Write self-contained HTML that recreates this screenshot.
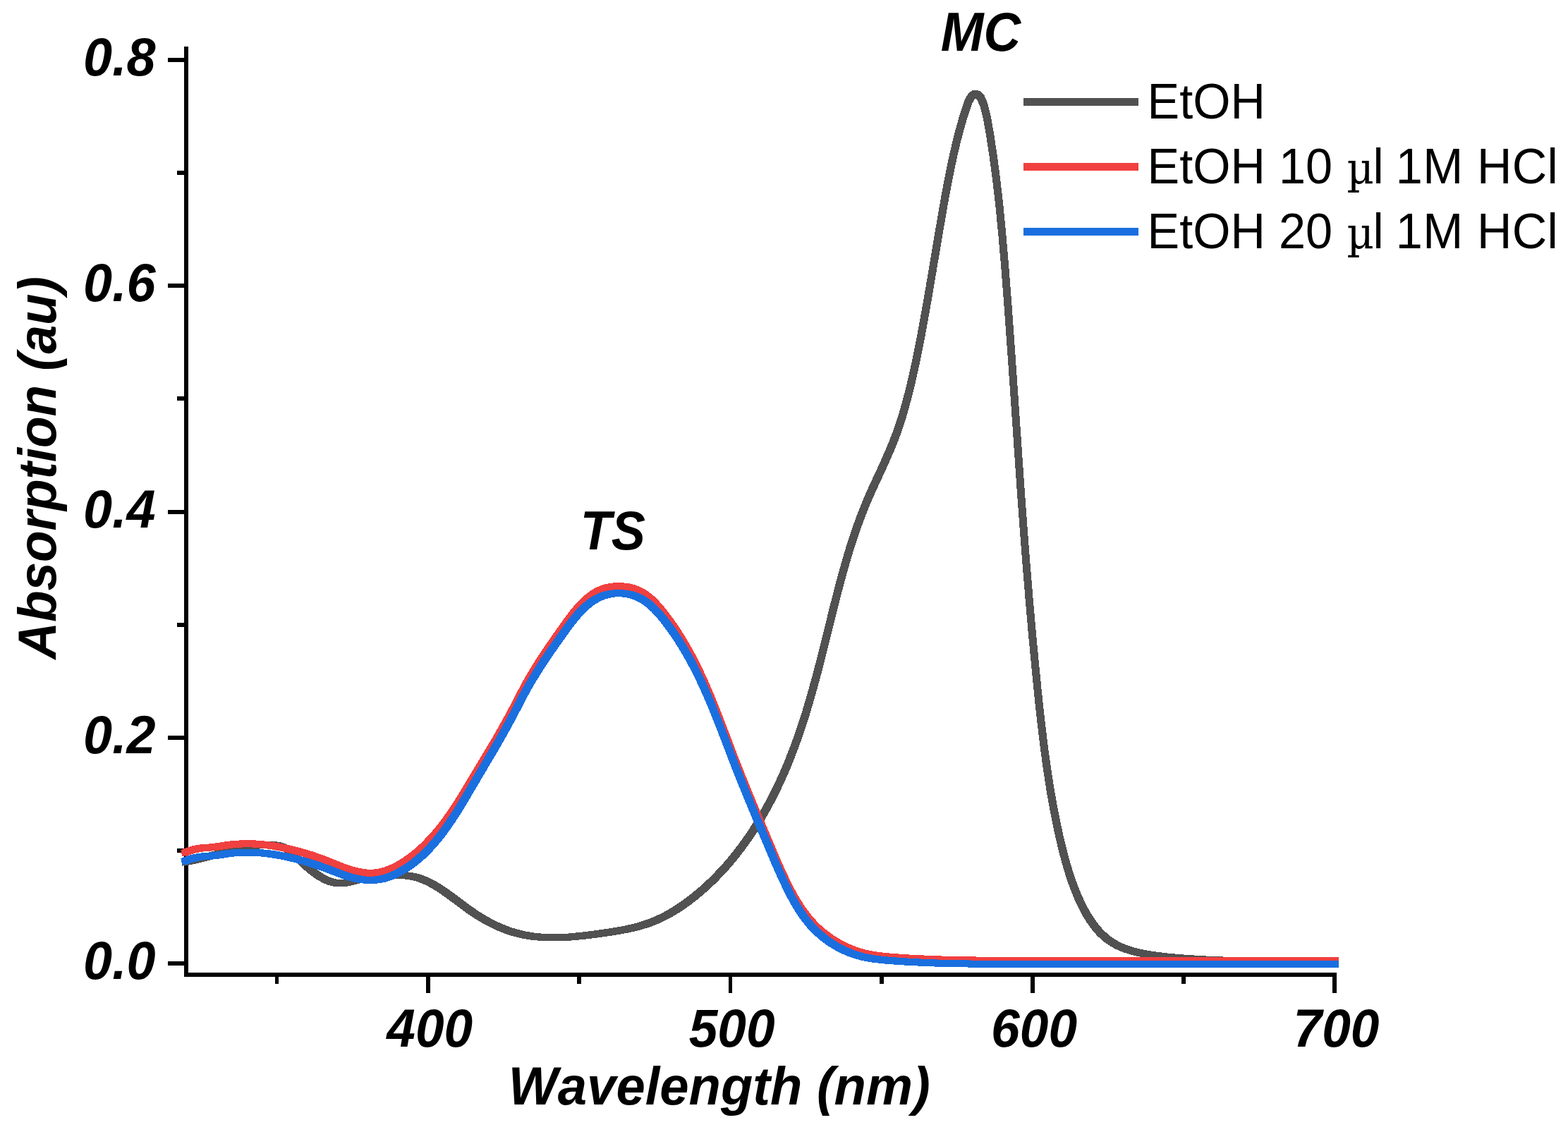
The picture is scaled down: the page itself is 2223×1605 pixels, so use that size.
<!DOCTYPE html>
<html lang="en"><head><meta charset="utf-8"><title>Absorption spectra</title>
<style>html,body{margin:0;padding:0;background:#fff}body{width:2223px;height:1605px;overflow:hidden}svg{display:block}</style>
</head><body>
<svg width="2223" height="1605" viewBox="0 0 2223 1605" role="img" aria-label="UV-Vis absorption spectra">
<rect width="2223" height="1605" fill="#fff"/>
<g fill="#000" shape-rendering="crispEdges">
<rect x="261" y="66" width="6" height="1319"/>
<rect x="261" y="1379" width="1634" height="6"/>
<rect x="238" y="1363" width="23" height="6"/>
<rect x="238" y="1043" width="23" height="6"/>
<rect x="238" y="723" width="23" height="6"/>
<rect x="238" y="402" width="23" height="6"/>
<rect x="238" y="82" width="23" height="6"/>
<rect x="251" y="1203" width="10" height="6"/>
<rect x="251" y="883" width="10" height="6"/>
<rect x="251" y="562" width="10" height="6"/>
<rect x="251" y="242" width="10" height="6"/>
<rect x="604" y="1385" width="6" height="23"/>
<rect x="1033" y="1385" width="5" height="23"/>
<rect x="1461" y="1385" width="6" height="23"/>
<rect x="1889" y="1385" width="6" height="23"/>
<rect x="390" y="1385" width="5" height="10"/>
<rect x="818" y="1385" width="6" height="10"/>
<rect x="1247" y="1385" width="6" height="10"/>
<rect x="1675" y="1385" width="6" height="10"/>
</g>
<g fill="none" stroke-width="6.6" stroke-linejoin="round" stroke-linecap="butt" shape-rendering="crispEdges">
<g stroke="#515151">
<path d="M257.7,1221.0 L261.9,1220.2 L266.2,1219.4 L270.5,1218.4 L274.8,1217.5 L279.0,1216.4 L283.3,1215.4 L287.6,1214.3 L291.9,1213.1 L296.2,1212.0 L300.5,1210.8 L304.7,1209.6 L309.0,1208.4 L313.3,1207.3 L317.6,1206.1 L321.9,1205.0 L326.2,1203.9 L330.4,1202.8 L334.7,1201.8 L339.0,1200.9 L343.3,1200.0 L347.6,1199.1 L351.9,1198.4 L356.2,1197.7 L360.4,1197.1 L364.7,1196.7 L369.0,1196.3 L373.3,1196.1 L377.6,1196.0 L381.9,1196.1 L386.1,1196.4 L390.4,1197.0 L394.7,1197.9 L399.0,1199.3 L403.3,1201.3 L407.6,1204.0 L411.8,1207.4 L416.1,1211.2 L420.4,1215.4 L424.7,1219.5 L429.0,1223.6 L433.3,1227.4 L437.6,1231.1 L441.8,1234.5 L446.1,1237.6 L450.4,1240.5 L454.7,1243.0 L459.0,1245.3 L463.3,1247.2 L467.5,1248.7 L471.8,1249.7 L476.1,1250.4 L480.4,1250.5 L484.7,1250.3 L489.0,1249.7 L493.2,1248.8 L497.5,1247.8 L501.8,1246.7 L506.1,1245.7 L510.4,1244.7 L514.7,1243.7 L519.0,1242.9 L523.2,1242.1 L527.5,1241.4 L531.8,1240.7 L536.1,1240.2 L540.4,1239.7 L544.7,1239.4 L548.9,1239.1 L553.2,1239.0 L557.5,1238.9 L561.8,1239.0 L566.1,1239.1 L570.4,1239.4 L574.6,1239.8 L578.9,1240.4 L583.2,1241.2 L587.5,1242.1 L591.8,1243.3 L596.1,1244.8 L600.4,1246.5 L604.6,1248.4 L608.9,1250.6 L613.2,1252.9 L617.5,1255.5 L621.8,1258.2 L626.1,1261.1 L630.3,1264.1 L634.6,1267.1 L638.9,1270.3 L643.2,1273.5 L647.5,1276.7 L651.8,1279.9 L656.0,1283.1 L660.3,1286.2 L664.6,1289.3 L668.9,1292.2 L673.2,1295.1 L677.5,1297.8 L681.8,1300.4 L686.0,1302.8 L690.3,1305.2 L694.6,1307.4 L698.9,1309.6 L703.2,1311.6 L707.5,1313.5 L711.7,1315.2 L716.0,1316.9 L720.3,1318.4 L724.6,1319.7 L728.9,1321.0 L733.2,1322.1 L737.4,1323.1 L741.7,1324.0 L746.0,1324.8 L750.3,1325.5 L754.6,1326.1 L758.9,1326.5 L763.2,1326.9 L767.4,1327.2 L771.7,1327.4 L776.0,1327.6 L780.3,1327.7 L784.6,1327.7 L788.9,1327.6 L793.1,1327.5 L797.4,1327.3 L801.7,1327.0 L806.0,1326.8 L810.3,1326.4 L814.6,1326.0 L818.8,1325.6 L823.1,1325.2 L827.4,1324.7 L831.7,1324.2 L836.0,1323.6 L840.3,1323.1 L844.6,1322.5 L848.8,1321.9 L853.1,1321.3 L857.4,1320.7 L861.7,1320.1 L866.0,1319.4 L870.3,1318.7 L874.5,1318.0 L878.8,1317.2 L883.1,1316.4 L887.4,1315.6 L891.7,1314.6 L896.0,1313.6 L900.2,1312.6 L904.5,1311.4 L908.8,1310.1 L913.1,1308.8 L917.4,1307.3 L921.7,1305.8 L926.0,1304.0 L930.2,1302.2 L934.5,1300.2 L938.8,1298.1 L943.1,1295.9 L947.4,1293.5 L951.7,1291.0 L955.9,1288.4 L960.2,1285.7 L964.5,1282.8 L968.8,1279.8 L973.1,1276.7 L977.4,1273.4 L981.6,1270.1 L985.9,1266.6 L990.2,1263.0 L994.5,1259.3 L998.8,1255.5 L1003.1,1251.5 L1007.4,1247.4 L1011.6,1243.2 L1015.9,1238.8 L1020.2,1234.3 L1024.5,1229.6 L1028.8,1224.8 L1033.1,1219.8 L1037.3,1214.7 L1041.6,1209.3 L1045.9,1203.8 L1050.2,1198.1 L1054.5,1192.2 L1058.8,1186.1 L1063.0,1179.8 L1067.3,1173.2 L1071.6,1166.5 L1075.9,1159.4 L1080.2,1152.1 L1084.5,1144.5 L1088.8,1136.7 L1093.0,1128.5 L1097.3,1120.0 L1101.6,1111.1 L1105.9,1101.8 L1110.2,1092.2 L1114.5,1082.0 L1118.7,1071.4 L1123.0,1060.3 L1127.3,1048.7 L1131.6,1036.4 L1135.9,1023.6 L1140.2,1010.1 L1144.4,995.9 L1148.7,981.1 L1153.0,965.7 L1157.3,949.7 L1161.6,933.1 L1165.9,916.1 L1170.2,898.9 L1174.4,881.6 L1178.7,864.3 L1183.0,847.2 L1187.3,830.6 L1191.6,814.6 L1195.9,799.2 L1200.1,784.6 L1204.4,770.7 L1208.7,757.5 L1213.0,745.1 L1217.3,733.4 L1221.6,722.2 L1225.8,711.7 L1230.1,701.8 L1234.4,692.1 L1238.7,682.7 L1243.0,673.5 L1247.3,664.2 L1251.6,654.8 L1255.8,645.2 L1260.1,635.3 L1264.4,624.8 L1268.7,613.5 L1273.0,601.3 L1277.3,587.9 L1281.5,573.3 L1285.8,557.2 L1290.1,539.7 L1294.4,520.6 L1298.7,500.1 L1303.0,478.4 L1307.2,455.6 L1311.5,431.6 L1315.8,406.8 L1320.1,381.3 L1324.4,355.6 L1328.7,330.1 L1333.0,305.1 L1337.2,281.0 L1341.5,258.0 L1345.8,236.2 L1350.1,216.2 L1354.4,198.0 L1358.7,181.5 L1362.9,166.6 L1367.2,153.1 L1371.5,141.1 L1375.8,134.2 L1380.1,131.2 L1384.4,132.3 L1388.6,137.3 L1392.9,147.5 L1397.2,164.7 L1401.5,189.3 L1405.8,217.6 L1410.1,249.6 L1414.4,286.4 L1418.6,329.3 L1422.9,379.4 L1427.2,435.9 L1431.5,496.0 L1435.8,558.1 L1440.1,620.6 L1444.3,682.1 L1448.6,741.4 L1452.9,797.4 L1457.2,849.9 L1461.5,898.8 L1465.8,944.2 L1470.0,986.5 L1474.3,1025.6 L1478.6,1060.9 L1482.9,1092.0 L1487.2,1119.4 L1491.5,1143.7 L1495.8,1165.5 L1500.0,1185.1 L1504.3,1203.0 L1508.6,1219.3 L1512.9,1233.9 L1517.2,1247.0 L1521.5,1258.6 L1525.7,1269.1 L1530.0,1278.6 L1534.3,1287.2 L1538.6,1294.9 L1542.9,1301.8 L1547.2,1308.0 L1551.4,1313.6 L1555.7,1318.6 L1560.0,1323.0 L1564.3,1326.9 L1568.6,1330.4 L1572.9,1333.4 L1577.2,1336.1 L1581.4,1338.4 L1585.7,1340.5 L1590.0,1342.3 L1594.3,1343.9 L1598.6,1345.3 L1602.9,1346.6 L1607.1,1347.8 L1611.4,1348.8 L1615.7,1349.7 L1620.0,1350.6 L1624.3,1351.3 L1628.6,1352.0 L1632.8,1352.6 L1637.1,1353.2 L1641.4,1353.7 L1645.7,1354.2 L1650.0,1354.7 L1654.3,1355.1 L1658.6,1355.5 L1662.8,1355.9 L1667.1,1356.3 L1671.4,1356.6 L1675.7,1357.0 L1680.0,1357.3 L1684.3,1357.6 L1688.5,1357.8 L1692.8,1358.1 L1697.1,1358.3 L1701.4,1358.6 L1705.7,1358.8 L1710.0,1359.0 L1714.2,1359.2 L1718.5,1359.4 L1722.8,1359.6 L1727.1,1359.7 L1731.4,1359.9 L1735.7,1360.1 L1740.0,1360.2 L1744.2,1360.4 L1748.5,1360.5 L1752.8,1360.6 L1757.1,1360.8 L1761.4,1360.9 L1765.7,1361.0 L1769.9,1361.1 L1774.2,1361.2 L1778.5,1361.3 L1782.8,1361.4 L1787.1,1361.5 L1791.4,1361.6 L1795.6,1361.7 L1799.9,1361.8 L1804.2,1361.8 L1808.5,1361.9 L1812.8,1362.0 L1817.1,1362.0 L1821.4,1362.1 L1825.6,1362.2 L1829.9,1362.2 L1834.2,1362.3 L1838.5,1362.3 L1842.8,1362.4 L1847.1,1362.4 L1851.3,1362.5 L1855.6,1362.5 L1859.9,1362.5 L1864.2,1362.6 L1868.5,1362.6 L1872.8,1362.6 L1877.0,1362.7 L1881.3,1362.7 L1885.6,1362.7 L1889.9,1362.8 L1893.9,1362.8"/>
<path d="M261.9,1221.0 L266.1,1220.2 L270.4,1219.4 L274.7,1218.4 L279.0,1217.5 L283.2,1216.4 L287.5,1215.4 L291.8,1214.3 L296.1,1213.1 L300.4,1212.0 L304.7,1210.8 L308.9,1209.6 L313.2,1208.4 L317.5,1207.3 L321.8,1206.1 L326.1,1205.0 L330.4,1203.9 L334.6,1202.8 L338.9,1201.8 L343.2,1200.9 L347.5,1200.0 L351.8,1199.1 L356.1,1198.4 L360.4,1197.7 L364.6,1197.1 L368.9,1196.7 L373.2,1196.3 L377.5,1196.1 L381.8,1196.0 L386.1,1196.1 L390.3,1196.4 L394.6,1197.0 L398.9,1197.9 L403.2,1199.3 L407.5,1201.3 L411.8,1204.0 L416.0,1207.4 L420.3,1211.2 L424.6,1215.4 L428.9,1219.5 L433.2,1223.6 L437.5,1227.4 L441.8,1231.1 L446.0,1234.5 L450.3,1237.6 L454.6,1240.5 L458.9,1243.0 L463.2,1245.3 L467.5,1247.2 L471.7,1248.7 L476.0,1249.7 L480.3,1250.4 L484.6,1250.5 L488.9,1250.3 L493.2,1249.7 L497.4,1248.8 L501.7,1247.8 L506.0,1246.7 L510.3,1245.7 L514.6,1244.7 L518.9,1243.7 L523.2,1242.9 L527.4,1242.1 L531.7,1241.4 L536.0,1240.7 L540.3,1240.2 L544.6,1239.7 L548.9,1239.4 L553.1,1239.1 L557.4,1239.0 L561.7,1238.9 L566.0,1239.0 L570.3,1239.1 L574.6,1239.4 L578.8,1239.8 L583.1,1240.4 L587.4,1241.2 L591.7,1242.1 L596.0,1243.3 L600.3,1244.8 L604.6,1246.5 L608.8,1248.4 L613.1,1250.6 L617.4,1252.9 L621.7,1255.5 L626.0,1258.2 L630.3,1261.1 L634.5,1264.1 L638.8,1267.1 L643.1,1270.3 L647.4,1273.5 L651.7,1276.7 L656.0,1279.9 L660.2,1283.1 L664.5,1286.2 L668.8,1289.3 L673.1,1292.2 L677.4,1295.1 L681.7,1297.8 L686.0,1300.4 L690.2,1302.8 L694.5,1305.2 L698.8,1307.4 L703.1,1309.6 L707.4,1311.6 L711.7,1313.5 L715.9,1315.2 L720.2,1316.9 L724.5,1318.4 L728.8,1319.7 L733.1,1321.0 L737.4,1322.1 L741.6,1323.1 L745.9,1324.0 L750.2,1324.8 L754.5,1325.5 L758.8,1326.1 L763.1,1326.5 L767.4,1326.9 L771.6,1327.2 L775.9,1327.4 L780.2,1327.6 L784.5,1327.7 L788.8,1327.7 L793.1,1327.6 L797.3,1327.5 L801.6,1327.3 L805.9,1327.0 L810.2,1326.8 L814.5,1326.4 L818.8,1326.0 L823.0,1325.6 L827.3,1325.2 L831.6,1324.7 L835.9,1324.2 L840.2,1323.6 L844.5,1323.1 L848.8,1322.5 L853.0,1321.9 L857.3,1321.3 L861.6,1320.7 L865.9,1320.1 L870.2,1319.4 L874.5,1318.7 L878.7,1318.0 L883.0,1317.2 L887.3,1316.4 L891.6,1315.6 L895.9,1314.6 L900.2,1313.6 L904.4,1312.6 L908.7,1311.4 L913.0,1310.1 L917.3,1308.8 L921.6,1307.3 L925.9,1305.8 L930.2,1304.0 L934.4,1302.2 L938.7,1300.2 L943.0,1298.1 L947.3,1295.9 L951.6,1293.5 L955.9,1291.0 L960.1,1288.4 L964.4,1285.7 L968.7,1282.8 L973.0,1279.8 L977.3,1276.7 L981.6,1273.4 L985.8,1270.1 L990.1,1266.6 L994.4,1263.0 L998.7,1259.3 L1003.0,1255.5 L1007.3,1251.5 L1011.6,1247.4 L1015.8,1243.2 L1020.1,1238.8 L1024.4,1234.3 L1028.7,1229.6 L1033.0,1224.8 L1037.3,1219.8 L1041.5,1214.7 L1045.8,1209.3 L1050.1,1203.8 L1054.4,1198.1 L1058.7,1192.2 L1063.0,1186.1 L1067.2,1179.8 L1071.5,1173.2 L1075.8,1166.5 L1080.1,1159.4 L1084.4,1152.1 L1088.7,1144.5 L1093.0,1136.7 L1097.2,1128.5 L1101.5,1120.0 L1105.8,1111.1 L1110.1,1101.8 L1114.4,1092.2 L1118.7,1082.0 L1122.9,1071.4 L1127.2,1060.3 L1131.5,1048.7 L1135.8,1036.4 L1140.1,1023.6 L1144.4,1010.1 L1148.6,995.9 L1152.9,981.1 L1157.2,965.7 L1161.5,949.7 L1165.8,933.1 L1170.1,916.1 L1174.4,898.9 L1178.6,881.6 L1182.9,864.3 L1187.2,847.2 L1191.5,830.6 L1195.8,814.6 L1200.1,799.2 L1204.3,784.6 L1208.6,770.7 L1212.9,757.5 L1217.2,745.1 L1221.5,733.4 L1225.8,722.2 L1230.0,711.7 L1234.3,701.8 L1238.6,692.1 L1242.9,682.7 L1247.2,673.5 L1251.5,664.2 L1255.8,654.8 L1260.0,645.2 L1264.3,635.3 L1268.6,624.8 L1272.9,613.5 L1277.2,601.3 L1281.5,587.9 L1285.7,573.3 L1290.0,557.2 L1294.3,539.7 L1298.6,520.6 L1302.9,500.1 L1307.2,478.4 L1311.4,455.6 L1315.7,431.6 L1320.0,406.8 L1324.3,381.3 L1328.6,355.6 L1332.9,330.1 L1337.2,305.1 L1341.4,281.0 L1345.7,258.0 L1350.0,236.2 L1354.3,216.2 L1358.6,198.0 L1362.9,181.5 L1367.1,166.6 L1371.4,153.1 L1375.7,141.1 L1380.0,134.2 L1384.3,131.2 L1388.6,132.3 L1392.8,137.3 L1397.1,147.5 L1401.4,164.7 L1405.7,189.3 L1410.0,217.6 L1414.3,249.6 L1418.6,286.4 L1422.8,329.3 L1427.1,379.4 L1431.4,435.9 L1435.7,496.0 L1440.0,558.1 L1444.3,620.6 L1448.5,682.1 L1452.8,741.4 L1457.1,797.4 L1461.4,849.9 L1465.7,898.8 L1470.0,944.2 L1474.2,986.5 L1478.5,1025.6 L1482.8,1060.9 L1487.1,1092.0 L1491.4,1119.4 L1495.7,1143.7 L1500.0,1165.5 L1504.2,1185.1 L1508.5,1203.0 L1512.8,1219.3 L1517.1,1233.9 L1521.4,1247.0 L1525.7,1258.6 L1529.9,1269.1 L1534.2,1278.6 L1538.5,1287.2 L1542.8,1294.9 L1547.1,1301.8 L1551.4,1308.0 L1555.6,1313.6 L1559.9,1318.6 L1564.2,1323.0 L1568.5,1326.9 L1572.8,1330.4 L1577.1,1333.4 L1581.4,1336.1 L1585.6,1338.4 L1589.9,1340.5 L1594.2,1342.3 L1598.5,1343.9 L1602.8,1345.3 L1607.1,1346.6 L1611.3,1347.8 L1615.6,1348.8 L1619.9,1349.7 L1624.2,1350.6 L1628.5,1351.3 L1632.8,1352.0 L1637.0,1352.6 L1641.3,1353.2 L1645.6,1353.7 L1649.9,1354.2 L1654.2,1354.7 L1658.5,1355.1 L1662.8,1355.5 L1667.0,1355.9 L1671.3,1356.3 L1675.6,1356.6 L1679.9,1357.0 L1684.2,1357.3 L1688.5,1357.6 L1692.7,1357.8 L1697.0,1358.1 L1701.3,1358.3 L1705.6,1358.6 L1709.9,1358.8 L1714.2,1359.0 L1718.4,1359.2 L1722.7,1359.4 L1727.0,1359.6 L1731.3,1359.7 L1735.6,1359.9 L1739.9,1360.1 L1744.2,1360.2 L1748.4,1360.4 L1752.7,1360.5 L1757.0,1360.6 L1761.3,1360.8 L1765.6,1360.9 L1769.9,1361.0 L1774.1,1361.1 L1778.4,1361.2 L1782.7,1361.3 L1787.0,1361.4 L1791.3,1361.5 L1795.6,1361.6 L1799.8,1361.7 L1804.1,1361.8 L1808.4,1361.8 L1812.7,1361.9 L1817.0,1362.0 L1821.3,1362.0 L1825.6,1362.1 L1829.8,1362.2 L1834.1,1362.2 L1838.4,1362.3 L1842.7,1362.3 L1847.0,1362.4 L1851.3,1362.4 L1855.5,1362.5 L1859.8,1362.5 L1864.1,1362.5 L1868.4,1362.6 L1872.7,1362.6 L1877.0,1362.6 L1881.2,1362.7 L1885.5,1362.7 L1889.8,1362.7 L1894.1,1362.8 L1898.1,1362.8"/>
<path d="M257.7,1224.4 L261.9,1223.6 L266.2,1222.8 L270.5,1221.8 L274.8,1220.9 L279.0,1219.8 L283.3,1218.8 L287.6,1217.7 L291.9,1216.5 L296.2,1215.4 L300.5,1214.2 L304.7,1213.0 L309.0,1211.8 L313.3,1210.7 L317.6,1209.5 L321.9,1208.4 L326.2,1207.3 L330.4,1206.2 L334.7,1205.2 L339.0,1204.3 L343.3,1203.4 L347.6,1202.5 L351.9,1201.8 L356.2,1201.1 L360.4,1200.5 L364.7,1200.1 L369.0,1199.7 L373.3,1199.5 L377.6,1199.4 L381.9,1199.5 L386.1,1199.8 L390.4,1200.4 L394.7,1201.3 L399.0,1202.7 L403.3,1204.7 L407.6,1207.4 L411.8,1210.8 L416.1,1214.6 L420.4,1218.8 L424.7,1222.9 L429.0,1227.0 L433.3,1230.8 L437.6,1234.5 L441.8,1237.9 L446.1,1241.0 L450.4,1243.9 L454.7,1246.4 L459.0,1248.7 L463.3,1250.6 L467.5,1252.1 L471.8,1253.1 L476.1,1253.8 L480.4,1253.9 L484.7,1253.7 L489.0,1253.1 L493.2,1252.2 L497.5,1251.2 L501.8,1250.1 L506.1,1249.1 L510.4,1248.1 L514.7,1247.1 L519.0,1246.3 L523.2,1245.5 L527.5,1244.8 L531.8,1244.1 L536.1,1243.6 L540.4,1243.1 L544.7,1242.8 L548.9,1242.5 L553.2,1242.4 L557.5,1242.3 L561.8,1242.4 L566.1,1242.5 L570.4,1242.8 L574.6,1243.2 L578.9,1243.8 L583.2,1244.6 L587.5,1245.5 L591.8,1246.7 L596.1,1248.2 L600.4,1249.9 L604.6,1251.8 L608.9,1254.0 L613.2,1256.3 L617.5,1258.9 L621.8,1261.6 L626.1,1264.5 L630.3,1267.5 L634.6,1270.5 L638.9,1273.7 L643.2,1276.9 L647.5,1280.1 L651.8,1283.3 L656.0,1286.5 L660.3,1289.6 L664.6,1292.7 L668.9,1295.6 L673.2,1298.5 L677.5,1301.2 L681.8,1303.8 L686.0,1306.2 L690.3,1308.6 L694.6,1310.8 L698.9,1313.0 L703.2,1315.0 L707.5,1316.9 L711.7,1318.6 L716.0,1320.3 L720.3,1321.8 L724.6,1323.1 L728.9,1324.4 L733.2,1325.5 L737.4,1326.5 L741.7,1327.4 L746.0,1328.2 L750.3,1328.9 L754.6,1329.5 L758.9,1329.9 L763.2,1330.3 L767.4,1330.6 L771.7,1330.8 L776.0,1331.0 L780.3,1331.1 L784.6,1331.1 L788.9,1331.0 L793.1,1330.9 L797.4,1330.7 L801.7,1330.4 L806.0,1330.2 L810.3,1329.8 L814.6,1329.4 L818.8,1329.0 L823.1,1328.6 L827.4,1328.1 L831.7,1327.6 L836.0,1327.0 L840.3,1326.5 L844.6,1325.9 L848.8,1325.3 L853.1,1324.7 L857.4,1324.1 L861.7,1323.5 L866.0,1322.8 L870.3,1322.1 L874.5,1321.4 L878.8,1320.6 L883.1,1319.8 L887.4,1319.0 L891.7,1318.0 L896.0,1317.0 L900.2,1316.0 L904.5,1314.8 L908.8,1313.5 L913.1,1312.2 L917.4,1310.7 L921.7,1309.2 L926.0,1307.4 L930.2,1305.6 L934.5,1303.6 L938.8,1301.5 L943.1,1299.3 L947.4,1296.9 L951.7,1294.4 L955.9,1291.8 L960.2,1289.1 L964.5,1286.2 L968.8,1283.2 L973.1,1280.1 L977.4,1276.8 L981.6,1273.5 L985.9,1270.0 L990.2,1266.4 L994.5,1262.7 L998.8,1258.9 L1003.1,1254.9 L1007.4,1250.8 L1011.6,1246.6 L1015.9,1242.2 L1020.2,1237.7 L1024.5,1233.0 L1028.8,1228.2 L1033.1,1223.2 L1037.3,1218.1 L1041.6,1212.7 L1045.9,1207.2 L1050.2,1201.5 L1054.5,1195.6 L1058.8,1189.5 L1063.0,1183.2 L1067.3,1176.6 L1071.6,1169.9 L1075.9,1162.8 L1080.2,1155.5 L1084.5,1147.9 L1088.8,1140.1 L1093.0,1131.9 L1097.3,1123.4 L1101.6,1114.5 L1105.9,1105.2 L1110.2,1095.6 L1114.5,1085.4 L1118.7,1074.8 L1123.0,1063.7 L1127.3,1052.1 L1131.6,1039.8 L1135.9,1027.0 L1140.2,1013.5 L1144.4,999.3 L1148.7,984.5 L1153.0,969.1 L1157.3,953.1 L1161.6,936.5 L1165.9,919.5 L1170.2,902.3 L1174.4,885.0 L1178.7,867.7 L1183.0,850.6 L1187.3,834.0 L1191.6,818.0 L1195.9,802.6 L1200.1,788.0 L1204.4,774.1 L1208.7,760.9 L1213.0,748.5 L1217.3,736.8 L1221.6,725.6 L1225.8,715.1 L1230.1,705.2 L1234.4,695.5 L1238.7,686.1 L1243.0,676.9 L1247.3,667.6 L1251.6,658.2 L1255.8,648.6 L1260.1,638.7 L1264.4,628.2 L1268.7,616.9 L1273.0,604.7 L1277.3,591.3 L1281.5,576.7 L1285.8,560.6 L1290.1,543.1 L1294.4,524.0 L1298.7,503.5 L1303.0,481.8 L1307.2,459.0 L1311.5,435.0 L1315.8,410.2 L1320.1,384.7 L1324.4,359.0 L1328.7,333.5 L1333.0,308.5 L1337.2,284.4 L1341.5,261.4 L1345.8,239.6 L1350.1,219.6 L1354.4,201.4 L1358.7,184.9 L1362.9,170.0 L1367.2,156.5 L1371.5,144.5 L1375.8,137.6 L1380.1,134.6 L1384.4,135.7 L1388.6,140.7 L1392.9,150.9 L1397.2,168.1 L1401.5,192.7 L1405.8,221.0 L1410.1,253.0 L1414.4,289.8 L1418.6,332.7 L1422.9,382.8 L1427.2,439.3 L1431.5,499.4 L1435.8,561.5 L1440.1,624.0 L1444.3,685.5 L1448.6,744.8 L1452.9,800.8 L1457.2,853.3 L1461.5,902.2 L1465.8,947.6 L1470.0,989.9 L1474.3,1029.0 L1478.6,1064.3 L1482.9,1095.4 L1487.2,1122.8 L1491.5,1147.1 L1495.8,1168.9 L1500.0,1188.5 L1504.3,1206.4 L1508.6,1222.7 L1512.9,1237.3 L1517.2,1250.4 L1521.5,1262.0 L1525.7,1272.5 L1530.0,1282.0 L1534.3,1290.6 L1538.6,1298.3 L1542.9,1305.2 L1547.2,1311.4 L1551.4,1317.0 L1555.7,1322.0 L1560.0,1326.4 L1564.3,1330.3 L1568.6,1333.8 L1572.9,1336.8 L1577.2,1339.5 L1581.4,1341.8 L1585.7,1343.9 L1590.0,1345.7 L1594.3,1347.3 L1598.6,1348.7 L1602.9,1350.0 L1607.1,1351.2 L1611.4,1352.2 L1615.7,1353.1 L1620.0,1354.0 L1624.3,1354.7 L1628.6,1355.4 L1632.8,1356.0 L1637.1,1356.6 L1641.4,1357.1 L1645.7,1357.6 L1650.0,1358.1 L1654.3,1358.5 L1658.6,1358.9 L1662.8,1359.3 L1667.1,1359.7 L1671.4,1360.0 L1675.7,1360.4 L1680.0,1360.7 L1684.3,1361.0 L1688.5,1361.2 L1692.8,1361.5 L1697.1,1361.7 L1701.4,1362.0 L1705.7,1362.2 L1710.0,1362.4 L1714.2,1362.6 L1718.5,1362.8 L1722.8,1363.0 L1727.1,1363.1 L1731.4,1363.3 L1735.7,1363.5 L1740.0,1363.6 L1744.2,1363.8 L1748.5,1363.9 L1752.8,1364.0 L1757.1,1364.2 L1761.4,1364.3 L1765.7,1364.4 L1769.9,1364.5 L1774.2,1364.6 L1778.5,1364.7 L1782.8,1364.8 L1787.1,1364.9 L1791.4,1365.0 L1795.6,1365.1 L1799.9,1365.2 L1804.2,1365.2 L1808.5,1365.3 L1812.8,1365.4 L1817.1,1365.4 L1821.4,1365.5 L1825.6,1365.6 L1829.9,1365.6 L1834.2,1365.7 L1838.5,1365.7 L1842.8,1365.8 L1847.1,1365.8 L1851.3,1365.9 L1855.6,1365.9 L1859.9,1365.9 L1864.2,1366.0 L1868.5,1366.0 L1872.8,1366.0 L1877.0,1366.1 L1881.3,1366.1 L1885.6,1366.1 L1889.9,1366.2 L1893.9,1366.2"/>
<path d="M261.9,1224.4 L266.1,1223.6 L270.4,1222.8 L274.7,1221.8 L279.0,1220.9 L283.2,1219.8 L287.5,1218.8 L291.8,1217.7 L296.1,1216.5 L300.4,1215.4 L304.7,1214.2 L308.9,1213.0 L313.2,1211.8 L317.5,1210.7 L321.8,1209.5 L326.1,1208.4 L330.4,1207.3 L334.6,1206.2 L338.9,1205.2 L343.2,1204.3 L347.5,1203.4 L351.8,1202.5 L356.1,1201.8 L360.4,1201.1 L364.6,1200.5 L368.9,1200.1 L373.2,1199.7 L377.5,1199.5 L381.8,1199.4 L386.1,1199.5 L390.3,1199.8 L394.6,1200.4 L398.9,1201.3 L403.2,1202.7 L407.5,1204.7 L411.8,1207.4 L416.0,1210.8 L420.3,1214.6 L424.6,1218.8 L428.9,1222.9 L433.2,1227.0 L437.5,1230.8 L441.8,1234.5 L446.0,1237.9 L450.3,1241.0 L454.6,1243.9 L458.9,1246.4 L463.2,1248.7 L467.5,1250.6 L471.7,1252.1 L476.0,1253.1 L480.3,1253.8 L484.6,1253.9 L488.9,1253.7 L493.2,1253.1 L497.4,1252.2 L501.7,1251.2 L506.0,1250.1 L510.3,1249.1 L514.6,1248.1 L518.9,1247.1 L523.2,1246.3 L527.4,1245.5 L531.7,1244.8 L536.0,1244.1 L540.3,1243.6 L544.6,1243.1 L548.9,1242.8 L553.1,1242.5 L557.4,1242.4 L561.7,1242.3 L566.0,1242.4 L570.3,1242.5 L574.6,1242.8 L578.8,1243.2 L583.1,1243.8 L587.4,1244.6 L591.7,1245.5 L596.0,1246.7 L600.3,1248.2 L604.6,1249.9 L608.8,1251.8 L613.1,1254.0 L617.4,1256.3 L621.7,1258.9 L626.0,1261.6 L630.3,1264.5 L634.5,1267.5 L638.8,1270.5 L643.1,1273.7 L647.4,1276.9 L651.7,1280.1 L656.0,1283.3 L660.2,1286.5 L664.5,1289.6 L668.8,1292.7 L673.1,1295.6 L677.4,1298.5 L681.7,1301.2 L686.0,1303.8 L690.2,1306.2 L694.5,1308.6 L698.8,1310.8 L703.1,1313.0 L707.4,1315.0 L711.7,1316.9 L715.9,1318.6 L720.2,1320.3 L724.5,1321.8 L728.8,1323.1 L733.1,1324.4 L737.4,1325.5 L741.6,1326.5 L745.9,1327.4 L750.2,1328.2 L754.5,1328.9 L758.8,1329.5 L763.1,1329.9 L767.4,1330.3 L771.6,1330.6 L775.9,1330.8 L780.2,1331.0 L784.5,1331.1 L788.8,1331.1 L793.1,1331.0 L797.3,1330.9 L801.6,1330.7 L805.9,1330.4 L810.2,1330.2 L814.5,1329.8 L818.8,1329.4 L823.0,1329.0 L827.3,1328.6 L831.6,1328.1 L835.9,1327.6 L840.2,1327.0 L844.5,1326.5 L848.8,1325.9 L853.0,1325.3 L857.3,1324.7 L861.6,1324.1 L865.9,1323.5 L870.2,1322.8 L874.5,1322.1 L878.7,1321.4 L883.0,1320.6 L887.3,1319.8 L891.6,1319.0 L895.9,1318.0 L900.2,1317.0 L904.4,1316.0 L908.7,1314.8 L913.0,1313.5 L917.3,1312.2 L921.6,1310.7 L925.9,1309.2 L930.2,1307.4 L934.4,1305.6 L938.7,1303.6 L943.0,1301.5 L947.3,1299.3 L951.6,1296.9 L955.9,1294.4 L960.1,1291.8 L964.4,1289.1 L968.7,1286.2 L973.0,1283.2 L977.3,1280.1 L981.6,1276.8 L985.8,1273.5 L990.1,1270.0 L994.4,1266.4 L998.7,1262.7 L1003.0,1258.9 L1007.3,1254.9 L1011.6,1250.8 L1015.8,1246.6 L1020.1,1242.2 L1024.4,1237.7 L1028.7,1233.0 L1033.0,1228.2 L1037.3,1223.2 L1041.5,1218.1 L1045.8,1212.7 L1050.1,1207.2 L1054.4,1201.5 L1058.7,1195.6 L1063.0,1189.5 L1067.2,1183.2 L1071.5,1176.6 L1075.8,1169.9 L1080.1,1162.8 L1084.4,1155.5 L1088.7,1147.9 L1093.0,1140.1 L1097.2,1131.9 L1101.5,1123.4 L1105.8,1114.5 L1110.1,1105.2 L1114.4,1095.6 L1118.7,1085.4 L1122.9,1074.8 L1127.2,1063.7 L1131.5,1052.1 L1135.8,1039.8 L1140.1,1027.0 L1144.4,1013.5 L1148.6,999.3 L1152.9,984.5 L1157.2,969.1 L1161.5,953.1 L1165.8,936.5 L1170.1,919.5 L1174.4,902.3 L1178.6,885.0 L1182.9,867.7 L1187.2,850.6 L1191.5,834.0 L1195.8,818.0 L1200.1,802.6 L1204.3,788.0 L1208.6,774.1 L1212.9,760.9 L1217.2,748.5 L1221.5,736.8 L1225.8,725.6 L1230.0,715.1 L1234.3,705.2 L1238.6,695.5 L1242.9,686.1 L1247.2,676.9 L1251.5,667.6 L1255.8,658.2 L1260.0,648.6 L1264.3,638.7 L1268.6,628.2 L1272.9,616.9 L1277.2,604.7 L1281.5,591.3 L1285.7,576.7 L1290.0,560.6 L1294.3,543.1 L1298.6,524.0 L1302.9,503.5 L1307.2,481.8 L1311.4,459.0 L1315.7,435.0 L1320.0,410.2 L1324.3,384.7 L1328.6,359.0 L1332.9,333.5 L1337.2,308.5 L1341.4,284.4 L1345.7,261.4 L1350.0,239.6 L1354.3,219.6 L1358.6,201.4 L1362.9,184.9 L1367.1,170.0 L1371.4,156.5 L1375.7,144.5 L1380.0,137.6 L1384.3,134.6 L1388.6,135.7 L1392.8,140.7 L1397.1,150.9 L1401.4,168.1 L1405.7,192.7 L1410.0,221.0 L1414.3,253.0 L1418.6,289.8 L1422.8,332.7 L1427.1,382.8 L1431.4,439.3 L1435.7,499.4 L1440.0,561.5 L1444.3,624.0 L1448.5,685.5 L1452.8,744.8 L1457.1,800.8 L1461.4,853.3 L1465.7,902.2 L1470.0,947.6 L1474.2,989.9 L1478.5,1029.0 L1482.8,1064.3 L1487.1,1095.4 L1491.4,1122.8 L1495.7,1147.1 L1500.0,1168.9 L1504.2,1188.5 L1508.5,1206.4 L1512.8,1222.7 L1517.1,1237.3 L1521.4,1250.4 L1525.7,1262.0 L1529.9,1272.5 L1534.2,1282.0 L1538.5,1290.6 L1542.8,1298.3 L1547.1,1305.2 L1551.4,1311.4 L1555.6,1317.0 L1559.9,1322.0 L1564.2,1326.4 L1568.5,1330.3 L1572.8,1333.8 L1577.1,1336.8 L1581.4,1339.5 L1585.6,1341.8 L1589.9,1343.9 L1594.2,1345.7 L1598.5,1347.3 L1602.8,1348.7 L1607.1,1350.0 L1611.3,1351.2 L1615.6,1352.2 L1619.9,1353.1 L1624.2,1354.0 L1628.5,1354.7 L1632.8,1355.4 L1637.0,1356.0 L1641.3,1356.6 L1645.6,1357.1 L1649.9,1357.6 L1654.2,1358.1 L1658.5,1358.5 L1662.8,1358.9 L1667.0,1359.3 L1671.3,1359.7 L1675.6,1360.0 L1679.9,1360.4 L1684.2,1360.7 L1688.5,1361.0 L1692.7,1361.2 L1697.0,1361.5 L1701.3,1361.7 L1705.6,1362.0 L1709.9,1362.2 L1714.2,1362.4 L1718.4,1362.6 L1722.7,1362.8 L1727.0,1363.0 L1731.3,1363.1 L1735.6,1363.3 L1739.9,1363.5 L1744.2,1363.6 L1748.4,1363.8 L1752.7,1363.9 L1757.0,1364.0 L1761.3,1364.2 L1765.6,1364.3 L1769.9,1364.4 L1774.1,1364.5 L1778.4,1364.6 L1782.7,1364.7 L1787.0,1364.8 L1791.3,1364.9 L1795.6,1365.0 L1799.8,1365.1 L1804.1,1365.2 L1808.4,1365.2 L1812.7,1365.3 L1817.0,1365.4 L1821.3,1365.4 L1825.6,1365.5 L1829.8,1365.6 L1834.1,1365.6 L1838.4,1365.7 L1842.7,1365.7 L1847.0,1365.8 L1851.3,1365.8 L1855.5,1365.9 L1859.8,1365.9 L1864.1,1365.9 L1868.4,1366.0 L1872.7,1366.0 L1877.0,1366.0 L1881.2,1366.1 L1885.5,1366.1 L1889.8,1366.1 L1894.1,1366.2 L1898.1,1366.2"/>
</g>
<g stroke="#F14040">
<path d="M257.7,1208.3 L261.9,1206.4 L266.2,1204.8 L270.5,1203.4 L274.8,1202.3 L279.0,1201.5 L283.3,1200.8 L287.6,1200.4 L291.9,1200.1 L296.2,1199.8 L300.5,1199.4 L304.7,1198.9 L309.0,1198.3 L313.3,1197.6 L317.6,1196.9 L321.9,1196.3 L326.2,1195.8 L330.4,1195.3 L334.7,1195.0 L339.0,1194.8 L343.3,1194.6 L347.6,1194.6 L351.9,1194.6 L356.2,1194.7 L360.4,1194.9 L364.7,1195.2 L369.0,1195.6 L373.3,1196.1 L377.6,1196.6 L381.9,1197.2 L386.1,1197.8 L390.4,1198.6 L394.7,1199.4 L399.0,1200.2 L403.3,1201.1 L407.6,1202.1 L411.8,1203.1 L416.1,1204.2 L420.4,1205.4 L424.7,1206.5 L429.0,1207.8 L433.3,1209.1 L437.6,1210.4 L441.8,1211.8 L446.1,1213.3 L450.4,1214.8 L454.7,1216.4 L459.0,1218.0 L463.3,1219.7 L467.5,1221.4 L471.8,1223.2 L476.1,1224.9 L480.4,1226.6 L484.7,1228.2 L489.0,1229.7 L493.2,1231.2 L497.5,1232.4 L501.8,1233.5 L506.1,1234.4 L510.4,1235.2 L514.7,1235.7 L519.0,1236.1 L523.2,1236.2 L527.5,1236.1 L531.8,1235.7 L536.1,1235.1 L540.4,1234.2 L544.7,1233.0 L548.9,1231.5 L553.2,1229.8 L557.5,1227.8 L561.8,1225.6 L566.1,1223.2 L570.4,1220.6 L574.6,1217.7 L578.9,1214.7 L583.2,1211.5 L587.5,1208.1 L591.8,1204.4 L596.1,1200.5 L600.4,1196.5 L604.6,1192.1 L608.9,1187.6 L613.2,1182.8 L617.5,1177.8 L621.8,1172.6 L626.1,1167.1 L630.3,1161.4 L634.6,1155.4 L638.9,1149.2 L643.2,1142.8 L647.5,1136.1 L651.8,1129.3 L656.0,1122.3 L660.3,1115.2 L664.6,1108.0 L668.9,1100.8 L673.2,1093.6 L677.5,1086.5 L681.8,1079.4 L686.0,1072.3 L690.3,1065.1 L694.6,1057.9 L698.9,1050.7 L703.2,1043.3 L707.5,1035.8 L711.7,1028.3 L716.0,1020.6 L720.3,1012.7 L724.6,1004.7 L728.9,996.5 L733.2,988.3 L737.4,980.0 L741.7,972.0 L746.0,964.2 L750.3,956.8 L754.6,949.5 L758.9,942.6 L763.2,935.8 L767.4,929.2 L771.7,922.8 L776.0,916.5 L780.3,910.3 L784.6,904.1 L788.9,898.0 L793.1,892.0 L797.4,886.0 L801.7,880.0 L806.0,874.1 L810.3,868.5 L814.6,863.2 L818.8,858.2 L823.1,853.7 L827.4,849.5 L831.7,845.8 L836.0,842.5 L840.3,839.6 L844.6,837.1 L848.8,835.0 L853.1,833.3 L857.4,831.9 L861.7,830.9 L866.0,830.2 L870.3,829.7 L874.5,829.5 L878.8,829.6 L883.1,830.0 L887.4,830.6 L891.7,831.6 L896.0,832.8 L900.2,834.4 L904.5,836.3 L908.8,838.7 L913.1,841.5 L917.4,844.7 L921.7,848.4 L926.0,852.6 L930.2,857.2 L934.5,862.1 L938.8,867.5 L943.1,873.1 L947.4,878.9 L951.7,885.0 L955.9,891.3 L960.2,897.8 L964.5,904.7 L968.8,911.8 L973.1,919.3 L977.4,927.1 L981.6,935.2 L985.9,943.7 L990.2,952.6 L994.5,961.8 L998.8,971.4 L1003.1,981.4 L1007.4,991.7 L1011.6,1002.3 L1015.9,1013.1 L1020.2,1024.2 L1024.5,1035.4 L1028.8,1046.7 L1033.1,1058.0 L1037.3,1069.3 L1041.6,1080.4 L1045.9,1091.3 L1050.2,1102.1 L1054.5,1112.7 L1058.8,1123.2 L1063.0,1133.5 L1067.3,1143.8 L1071.6,1154.1 L1075.9,1164.3 L1080.2,1174.5 L1084.5,1184.6 L1088.8,1194.8 L1093.0,1205.0 L1097.3,1215.0 L1101.6,1224.9 L1105.9,1234.4 L1110.2,1243.6 L1114.5,1252.4 L1118.7,1260.8 L1123.0,1268.7 L1127.3,1276.1 L1131.6,1283.0 L1135.9,1289.3 L1140.2,1295.2 L1144.4,1300.6 L1148.7,1305.5 L1153.0,1310.0 L1157.3,1314.2 L1161.6,1318.0 L1165.9,1321.5 L1170.2,1324.8 L1174.4,1327.9 L1178.7,1330.7 L1183.0,1333.3 L1187.3,1335.8 L1191.6,1338.1 L1195.9,1340.2 L1200.1,1342.1 L1204.4,1343.9 L1208.7,1345.5 L1213.0,1347.0 L1217.3,1348.3 L1221.6,1349.5 L1225.8,1350.5 L1230.1,1351.4 L1234.4,1352.2 L1238.7,1352.9 L1243.0,1353.4 L1247.3,1353.9 L1251.6,1354.4 L1255.8,1354.7 L1260.1,1355.1 L1264.4,1355.4 L1268.7,1355.7 L1273.0,1356.0 L1277.3,1356.3 L1281.5,1356.6 L1285.8,1356.9 L1290.1,1357.1 L1294.4,1357.3 L1298.7,1357.5 L1303.0,1357.7 L1307.2,1357.9 L1311.5,1358.1 L1315.8,1358.3 L1320.1,1358.5 L1324.4,1358.6 L1328.7,1358.7 L1333.0,1358.9 L1337.2,1359.0 L1341.5,1359.1 L1345.8,1359.2 L1350.1,1359.3 L1354.4,1359.4 L1358.7,1359.5 L1362.9,1359.5 L1367.2,1359.6 L1371.5,1359.7 L1375.8,1359.7 L1380.1,1359.8 L1384.4,1359.8 L1388.6,1359.8 L1392.9,1359.9 L1397.2,1359.9 L1401.5,1359.9 L1405.8,1359.9 L1410.1,1360.0 L1414.4,1360.0 L1418.6,1360.0 L1422.9,1360.0 L1427.2,1360.0 L1431.5,1360.0 L1435.8,1360.0 L1440.1,1360.0 L1444.3,1360.0 L1448.6,1360.0 L1452.9,1360.0 L1457.2,1360.0 L1461.5,1360.0 L1465.8,1360.0 L1470.0,1360.0 L1474.3,1360.0 L1478.6,1360.0 L1482.9,1360.0 L1487.2,1360.0 L1491.5,1360.0 L1495.8,1360.0 L1500.0,1360.0 L1504.3,1360.1 L1508.6,1360.1 L1512.9,1360.1 L1517.2,1360.1 L1521.5,1360.1 L1525.7,1360.1 L1530.0,1360.1 L1534.3,1360.1 L1538.6,1360.1 L1542.9,1360.1 L1547.2,1360.1 L1551.4,1360.1 L1555.7,1360.1 L1560.0,1360.1 L1564.3,1360.1 L1568.6,1360.1 L1572.9,1360.1 L1577.2,1360.2 L1581.4,1360.2 L1585.7,1360.2 L1590.0,1360.2 L1594.3,1360.2 L1598.6,1360.2 L1602.9,1360.2 L1607.1,1360.2 L1611.4,1360.2 L1615.7,1360.2 L1620.0,1360.2 L1624.3,1360.2 L1628.6,1360.2 L1632.8,1360.2 L1637.1,1360.2 L1641.4,1360.3 L1645.7,1360.3 L1650.0,1360.3 L1654.3,1360.3 L1658.6,1360.3 L1662.8,1360.3 L1667.1,1360.3 L1671.4,1360.3 L1675.7,1360.3 L1680.0,1360.3 L1684.3,1360.3 L1688.5,1360.3 L1692.8,1360.3 L1697.1,1360.3 L1701.4,1360.3 L1705.7,1360.3 L1710.0,1360.3 L1714.2,1360.3 L1718.5,1360.3 L1722.8,1360.3 L1727.1,1360.4 L1731.4,1360.4 L1735.7,1360.4 L1740.0,1360.4 L1744.2,1360.4 L1748.5,1360.4 L1752.8,1360.4 L1757.1,1360.4 L1761.4,1360.4 L1765.7,1360.4 L1769.9,1360.4 L1774.2,1360.4 L1778.5,1360.4 L1782.8,1360.4 L1787.1,1360.4 L1791.4,1360.4 L1795.6,1360.4 L1799.9,1360.4 L1804.2,1360.4 L1808.5,1360.4 L1812.8,1360.4 L1817.1,1360.4 L1821.4,1360.4 L1825.6,1360.4 L1829.9,1360.3 L1834.2,1360.3 L1838.5,1360.3 L1842.8,1360.3 L1847.1,1360.3 L1851.3,1360.3 L1855.6,1360.3 L1859.9,1360.3 L1864.2,1360.3 L1868.5,1360.3 L1872.8,1360.3 L1877.0,1360.3 L1881.3,1360.3 L1885.6,1360.3 L1889.9,1360.2 L1893.9,1360.2"/>
<path d="M261.9,1208.3 L266.1,1206.4 L270.4,1204.8 L274.7,1203.4 L279.0,1202.3 L283.2,1201.5 L287.5,1200.8 L291.8,1200.4 L296.1,1200.1 L300.4,1199.8 L304.7,1199.4 L308.9,1198.9 L313.2,1198.3 L317.5,1197.6 L321.8,1196.9 L326.1,1196.3 L330.4,1195.8 L334.6,1195.3 L338.9,1195.0 L343.2,1194.8 L347.5,1194.6 L351.8,1194.6 L356.1,1194.6 L360.4,1194.7 L364.6,1194.9 L368.9,1195.2 L373.2,1195.6 L377.5,1196.1 L381.8,1196.6 L386.1,1197.2 L390.3,1197.8 L394.6,1198.6 L398.9,1199.4 L403.2,1200.2 L407.5,1201.1 L411.8,1202.1 L416.0,1203.1 L420.3,1204.2 L424.6,1205.4 L428.9,1206.5 L433.2,1207.8 L437.5,1209.1 L441.8,1210.4 L446.0,1211.8 L450.3,1213.3 L454.6,1214.8 L458.9,1216.4 L463.2,1218.0 L467.5,1219.7 L471.7,1221.4 L476.0,1223.2 L480.3,1224.9 L484.6,1226.6 L488.9,1228.2 L493.2,1229.7 L497.4,1231.2 L501.7,1232.4 L506.0,1233.5 L510.3,1234.4 L514.6,1235.2 L518.9,1235.7 L523.2,1236.1 L527.4,1236.2 L531.7,1236.1 L536.0,1235.7 L540.3,1235.1 L544.6,1234.2 L548.9,1233.0 L553.1,1231.5 L557.4,1229.8 L561.7,1227.8 L566.0,1225.6 L570.3,1223.2 L574.6,1220.6 L578.8,1217.7 L583.1,1214.7 L587.4,1211.5 L591.7,1208.1 L596.0,1204.4 L600.3,1200.5 L604.6,1196.5 L608.8,1192.1 L613.1,1187.6 L617.4,1182.8 L621.7,1177.8 L626.0,1172.6 L630.3,1167.1 L634.5,1161.4 L638.8,1155.4 L643.1,1149.2 L647.4,1142.8 L651.7,1136.1 L656.0,1129.3 L660.2,1122.3 L664.5,1115.2 L668.8,1108.0 L673.1,1100.8 L677.4,1093.6 L681.7,1086.5 L686.0,1079.4 L690.2,1072.3 L694.5,1065.1 L698.8,1057.9 L703.1,1050.7 L707.4,1043.3 L711.7,1035.8 L715.9,1028.3 L720.2,1020.6 L724.5,1012.7 L728.8,1004.7 L733.1,996.5 L737.4,988.3 L741.6,980.0 L745.9,972.0 L750.2,964.2 L754.5,956.8 L758.8,949.5 L763.1,942.6 L767.4,935.8 L771.6,929.2 L775.9,922.8 L780.2,916.5 L784.5,910.3 L788.8,904.1 L793.1,898.0 L797.3,892.0 L801.6,886.0 L805.9,880.0 L810.2,874.1 L814.5,868.5 L818.8,863.2 L823.0,858.2 L827.3,853.7 L831.6,849.5 L835.9,845.8 L840.2,842.5 L844.5,839.6 L848.8,837.1 L853.0,835.0 L857.3,833.3 L861.6,831.9 L865.9,830.9 L870.2,830.2 L874.5,829.7 L878.7,829.5 L883.0,829.6 L887.3,830.0 L891.6,830.6 L895.9,831.6 L900.2,832.8 L904.4,834.4 L908.7,836.3 L913.0,838.7 L917.3,841.5 L921.6,844.7 L925.9,848.4 L930.2,852.6 L934.4,857.2 L938.7,862.1 L943.0,867.5 L947.3,873.1 L951.6,878.9 L955.9,885.0 L960.1,891.3 L964.4,897.8 L968.7,904.7 L973.0,911.8 L977.3,919.3 L981.6,927.1 L985.8,935.2 L990.1,943.7 L994.4,952.6 L998.7,961.8 L1003.0,971.4 L1007.3,981.4 L1011.6,991.7 L1015.8,1002.3 L1020.1,1013.1 L1024.4,1024.2 L1028.7,1035.4 L1033.0,1046.7 L1037.3,1058.0 L1041.5,1069.3 L1045.8,1080.4 L1050.1,1091.3 L1054.4,1102.1 L1058.7,1112.7 L1063.0,1123.2 L1067.2,1133.5 L1071.5,1143.8 L1075.8,1154.1 L1080.1,1164.3 L1084.4,1174.5 L1088.7,1184.6 L1093.0,1194.8 L1097.2,1205.0 L1101.5,1215.0 L1105.8,1224.9 L1110.1,1234.4 L1114.4,1243.6 L1118.7,1252.4 L1122.9,1260.8 L1127.2,1268.7 L1131.5,1276.1 L1135.8,1283.0 L1140.1,1289.3 L1144.4,1295.2 L1148.6,1300.6 L1152.9,1305.5 L1157.2,1310.0 L1161.5,1314.2 L1165.8,1318.0 L1170.1,1321.5 L1174.4,1324.8 L1178.6,1327.9 L1182.9,1330.7 L1187.2,1333.3 L1191.5,1335.8 L1195.8,1338.1 L1200.1,1340.2 L1204.3,1342.1 L1208.6,1343.9 L1212.9,1345.5 L1217.2,1347.0 L1221.5,1348.3 L1225.8,1349.5 L1230.0,1350.5 L1234.3,1351.4 L1238.6,1352.2 L1242.9,1352.9 L1247.2,1353.4 L1251.5,1353.9 L1255.8,1354.4 L1260.0,1354.7 L1264.3,1355.1 L1268.6,1355.4 L1272.9,1355.7 L1277.2,1356.0 L1281.5,1356.3 L1285.7,1356.6 L1290.0,1356.9 L1294.3,1357.1 L1298.6,1357.3 L1302.9,1357.5 L1307.2,1357.7 L1311.4,1357.9 L1315.7,1358.1 L1320.0,1358.3 L1324.3,1358.5 L1328.6,1358.6 L1332.9,1358.7 L1337.2,1358.9 L1341.4,1359.0 L1345.7,1359.1 L1350.0,1359.2 L1354.3,1359.3 L1358.6,1359.4 L1362.9,1359.5 L1367.1,1359.5 L1371.4,1359.6 L1375.7,1359.7 L1380.0,1359.7 L1384.3,1359.8 L1388.6,1359.8 L1392.8,1359.8 L1397.1,1359.9 L1401.4,1359.9 L1405.7,1359.9 L1410.0,1359.9 L1414.3,1360.0 L1418.6,1360.0 L1422.8,1360.0 L1427.1,1360.0 L1431.4,1360.0 L1435.7,1360.0 L1440.0,1360.0 L1444.3,1360.0 L1448.5,1360.0 L1452.8,1360.0 L1457.1,1360.0 L1461.4,1360.0 L1465.7,1360.0 L1470.0,1360.0 L1474.2,1360.0 L1478.5,1360.0 L1482.8,1360.0 L1487.1,1360.0 L1491.4,1360.0 L1495.7,1360.0 L1500.0,1360.0 L1504.2,1360.0 L1508.5,1360.1 L1512.8,1360.1 L1517.1,1360.1 L1521.4,1360.1 L1525.7,1360.1 L1529.9,1360.1 L1534.2,1360.1 L1538.5,1360.1 L1542.8,1360.1 L1547.1,1360.1 L1551.4,1360.1 L1555.6,1360.1 L1559.9,1360.1 L1564.2,1360.1 L1568.5,1360.1 L1572.8,1360.1 L1577.1,1360.1 L1581.4,1360.2 L1585.6,1360.2 L1589.9,1360.2 L1594.2,1360.2 L1598.5,1360.2 L1602.8,1360.2 L1607.1,1360.2 L1611.3,1360.2 L1615.6,1360.2 L1619.9,1360.2 L1624.2,1360.2 L1628.5,1360.2 L1632.8,1360.2 L1637.0,1360.2 L1641.3,1360.2 L1645.6,1360.3 L1649.9,1360.3 L1654.2,1360.3 L1658.5,1360.3 L1662.8,1360.3 L1667.0,1360.3 L1671.3,1360.3 L1675.6,1360.3 L1679.9,1360.3 L1684.2,1360.3 L1688.5,1360.3 L1692.7,1360.3 L1697.0,1360.3 L1701.3,1360.3 L1705.6,1360.3 L1709.9,1360.3 L1714.2,1360.3 L1718.4,1360.3 L1722.7,1360.3 L1727.0,1360.3 L1731.3,1360.4 L1735.6,1360.4 L1739.9,1360.4 L1744.2,1360.4 L1748.4,1360.4 L1752.7,1360.4 L1757.0,1360.4 L1761.3,1360.4 L1765.6,1360.4 L1769.9,1360.4 L1774.1,1360.4 L1778.4,1360.4 L1782.7,1360.4 L1787.0,1360.4 L1791.3,1360.4 L1795.6,1360.4 L1799.8,1360.4 L1804.1,1360.4 L1808.4,1360.4 L1812.7,1360.4 L1817.0,1360.4 L1821.3,1360.4 L1825.6,1360.4 L1829.8,1360.4 L1834.1,1360.3 L1838.4,1360.3 L1842.7,1360.3 L1847.0,1360.3 L1851.3,1360.3 L1855.5,1360.3 L1859.8,1360.3 L1864.1,1360.3 L1868.4,1360.3 L1872.7,1360.3 L1877.0,1360.3 L1881.2,1360.3 L1885.5,1360.3 L1889.8,1360.3 L1894.1,1360.2 L1898.1,1360.2"/>
<path d="M257.7,1211.7 L261.9,1209.8 L266.2,1208.2 L270.5,1206.8 L274.8,1205.7 L279.0,1204.9 L283.3,1204.2 L287.6,1203.8 L291.9,1203.5 L296.2,1203.2 L300.5,1202.8 L304.7,1202.3 L309.0,1201.7 L313.3,1201.0 L317.6,1200.3 L321.9,1199.7 L326.2,1199.2 L330.4,1198.7 L334.7,1198.4 L339.0,1198.2 L343.3,1198.0 L347.6,1198.0 L351.9,1198.0 L356.2,1198.1 L360.4,1198.3 L364.7,1198.6 L369.0,1199.0 L373.3,1199.5 L377.6,1200.0 L381.9,1200.6 L386.1,1201.2 L390.4,1202.0 L394.7,1202.8 L399.0,1203.6 L403.3,1204.5 L407.6,1205.5 L411.8,1206.5 L416.1,1207.6 L420.4,1208.8 L424.7,1209.9 L429.0,1211.2 L433.3,1212.5 L437.6,1213.8 L441.8,1215.2 L446.1,1216.7 L450.4,1218.2 L454.7,1219.8 L459.0,1221.4 L463.3,1223.1 L467.5,1224.8 L471.8,1226.6 L476.1,1228.3 L480.4,1230.0 L484.7,1231.6 L489.0,1233.1 L493.2,1234.6 L497.5,1235.8 L501.8,1236.9 L506.1,1237.8 L510.4,1238.6 L514.7,1239.1 L519.0,1239.5 L523.2,1239.6 L527.5,1239.5 L531.8,1239.1 L536.1,1238.5 L540.4,1237.6 L544.7,1236.4 L548.9,1234.9 L553.2,1233.2 L557.5,1231.2 L561.8,1229.0 L566.1,1226.6 L570.4,1224.0 L574.6,1221.1 L578.9,1218.1 L583.2,1214.9 L587.5,1211.5 L591.8,1207.8 L596.1,1203.9 L600.4,1199.9 L604.6,1195.5 L608.9,1191.0 L613.2,1186.2 L617.5,1181.2 L621.8,1176.0 L626.1,1170.5 L630.3,1164.8 L634.6,1158.8 L638.9,1152.6 L643.2,1146.2 L647.5,1139.5 L651.8,1132.7 L656.0,1125.7 L660.3,1118.6 L664.6,1111.4 L668.9,1104.2 L673.2,1097.0 L677.5,1089.9 L681.8,1082.8 L686.0,1075.7 L690.3,1068.5 L694.6,1061.3 L698.9,1054.1 L703.2,1046.7 L707.5,1039.2 L711.7,1031.7 L716.0,1024.0 L720.3,1016.1 L724.6,1008.1 L728.9,999.9 L733.2,991.7 L737.4,983.4 L741.7,975.4 L746.0,967.6 L750.3,960.2 L754.6,952.9 L758.9,946.0 L763.2,939.2 L767.4,932.6 L771.7,926.2 L776.0,919.9 L780.3,913.7 L784.6,907.5 L788.9,901.4 L793.1,895.4 L797.4,889.4 L801.7,883.4 L806.0,877.5 L810.3,871.9 L814.6,866.6 L818.8,861.6 L823.1,857.1 L827.4,852.9 L831.7,849.2 L836.0,845.9 L840.3,843.0 L844.6,840.5 L848.8,838.4 L853.1,836.7 L857.4,835.3 L861.7,834.3 L866.0,833.6 L870.3,833.1 L874.5,832.9 L878.8,833.0 L883.1,833.4 L887.4,834.0 L891.7,835.0 L896.0,836.2 L900.2,837.8 L904.5,839.7 L908.8,842.1 L913.1,844.9 L917.4,848.1 L921.7,851.8 L926.0,856.0 L930.2,860.6 L934.5,865.5 L938.8,870.9 L943.1,876.5 L947.4,882.3 L951.7,888.4 L955.9,894.7 L960.2,901.2 L964.5,908.1 L968.8,915.2 L973.1,922.7 L977.4,930.5 L981.6,938.6 L985.9,947.1 L990.2,956.0 L994.5,965.2 L998.8,974.8 L1003.1,984.8 L1007.4,995.1 L1011.6,1005.7 L1015.9,1016.5 L1020.2,1027.6 L1024.5,1038.8 L1028.8,1050.1 L1033.1,1061.4 L1037.3,1072.7 L1041.6,1083.8 L1045.9,1094.7 L1050.2,1105.5 L1054.5,1116.1 L1058.8,1126.6 L1063.0,1136.9 L1067.3,1147.2 L1071.6,1157.5 L1075.9,1167.7 L1080.2,1177.9 L1084.5,1188.0 L1088.8,1198.2 L1093.0,1208.4 L1097.3,1218.4 L1101.6,1228.3 L1105.9,1237.8 L1110.2,1247.0 L1114.5,1255.8 L1118.7,1264.2 L1123.0,1272.1 L1127.3,1279.5 L1131.6,1286.4 L1135.9,1292.7 L1140.2,1298.6 L1144.4,1304.0 L1148.7,1308.9 L1153.0,1313.4 L1157.3,1317.6 L1161.6,1321.4 L1165.9,1324.9 L1170.2,1328.2 L1174.4,1331.3 L1178.7,1334.1 L1183.0,1336.7 L1187.3,1339.2 L1191.6,1341.5 L1195.9,1343.6 L1200.1,1345.5 L1204.4,1347.3 L1208.7,1348.9 L1213.0,1350.4 L1217.3,1351.7 L1221.6,1352.9 L1225.8,1353.9 L1230.1,1354.8 L1234.4,1355.6 L1238.7,1356.3 L1243.0,1356.8 L1247.3,1357.3 L1251.6,1357.8 L1255.8,1358.1 L1260.1,1358.5 L1264.4,1358.8 L1268.7,1359.1 L1273.0,1359.4 L1277.3,1359.7 L1281.5,1360.0 L1285.8,1360.3 L1290.1,1360.5 L1294.4,1360.7 L1298.7,1360.9 L1303.0,1361.1 L1307.2,1361.3 L1311.5,1361.5 L1315.8,1361.7 L1320.1,1361.9 L1324.4,1362.0 L1328.7,1362.1 L1333.0,1362.3 L1337.2,1362.4 L1341.5,1362.5 L1345.8,1362.6 L1350.1,1362.7 L1354.4,1362.8 L1358.7,1362.9 L1362.9,1362.9 L1367.2,1363.0 L1371.5,1363.1 L1375.8,1363.1 L1380.1,1363.2 L1384.4,1363.2 L1388.6,1363.2 L1392.9,1363.3 L1397.2,1363.3 L1401.5,1363.3 L1405.8,1363.3 L1410.1,1363.4 L1414.4,1363.4 L1418.6,1363.4 L1422.9,1363.4 L1427.2,1363.4 L1431.5,1363.4 L1435.8,1363.4 L1440.1,1363.4 L1444.3,1363.4 L1448.6,1363.4 L1452.9,1363.4 L1457.2,1363.4 L1461.5,1363.4 L1465.8,1363.4 L1470.0,1363.4 L1474.3,1363.4 L1478.6,1363.4 L1482.9,1363.4 L1487.2,1363.4 L1491.5,1363.4 L1495.8,1363.4 L1500.0,1363.4 L1504.3,1363.5 L1508.6,1363.5 L1512.9,1363.5 L1517.2,1363.5 L1521.5,1363.5 L1525.7,1363.5 L1530.0,1363.5 L1534.3,1363.5 L1538.6,1363.5 L1542.9,1363.5 L1547.2,1363.5 L1551.4,1363.5 L1555.7,1363.5 L1560.0,1363.5 L1564.3,1363.5 L1568.6,1363.5 L1572.9,1363.5 L1577.2,1363.6 L1581.4,1363.6 L1585.7,1363.6 L1590.0,1363.6 L1594.3,1363.6 L1598.6,1363.6 L1602.9,1363.6 L1607.1,1363.6 L1611.4,1363.6 L1615.7,1363.6 L1620.0,1363.6 L1624.3,1363.6 L1628.6,1363.6 L1632.8,1363.6 L1637.1,1363.6 L1641.4,1363.7 L1645.7,1363.7 L1650.0,1363.7 L1654.3,1363.7 L1658.6,1363.7 L1662.8,1363.7 L1667.1,1363.7 L1671.4,1363.7 L1675.7,1363.7 L1680.0,1363.7 L1684.3,1363.7 L1688.5,1363.7 L1692.8,1363.7 L1697.1,1363.7 L1701.4,1363.7 L1705.7,1363.7 L1710.0,1363.7 L1714.2,1363.7 L1718.5,1363.7 L1722.8,1363.7 L1727.1,1363.8 L1731.4,1363.8 L1735.7,1363.8 L1740.0,1363.8 L1744.2,1363.8 L1748.5,1363.8 L1752.8,1363.8 L1757.1,1363.8 L1761.4,1363.8 L1765.7,1363.8 L1769.9,1363.8 L1774.2,1363.8 L1778.5,1363.8 L1782.8,1363.8 L1787.1,1363.8 L1791.4,1363.8 L1795.6,1363.8 L1799.9,1363.8 L1804.2,1363.8 L1808.5,1363.8 L1812.8,1363.8 L1817.1,1363.8 L1821.4,1363.8 L1825.6,1363.8 L1829.9,1363.7 L1834.2,1363.7 L1838.5,1363.7 L1842.8,1363.7 L1847.1,1363.7 L1851.3,1363.7 L1855.6,1363.7 L1859.9,1363.7 L1864.2,1363.7 L1868.5,1363.7 L1872.8,1363.7 L1877.0,1363.7 L1881.3,1363.7 L1885.6,1363.7 L1889.9,1363.6 L1893.9,1363.6"/>
<path d="M261.9,1211.7 L266.1,1209.8 L270.4,1208.2 L274.7,1206.8 L279.0,1205.7 L283.2,1204.9 L287.5,1204.2 L291.8,1203.8 L296.1,1203.5 L300.4,1203.2 L304.7,1202.8 L308.9,1202.3 L313.2,1201.7 L317.5,1201.0 L321.8,1200.3 L326.1,1199.7 L330.4,1199.2 L334.6,1198.7 L338.9,1198.4 L343.2,1198.2 L347.5,1198.0 L351.8,1198.0 L356.1,1198.0 L360.4,1198.1 L364.6,1198.3 L368.9,1198.6 L373.2,1199.0 L377.5,1199.5 L381.8,1200.0 L386.1,1200.6 L390.3,1201.2 L394.6,1202.0 L398.9,1202.8 L403.2,1203.6 L407.5,1204.5 L411.8,1205.5 L416.0,1206.5 L420.3,1207.6 L424.6,1208.8 L428.9,1209.9 L433.2,1211.2 L437.5,1212.5 L441.8,1213.8 L446.0,1215.2 L450.3,1216.7 L454.6,1218.2 L458.9,1219.8 L463.2,1221.4 L467.5,1223.1 L471.7,1224.8 L476.0,1226.6 L480.3,1228.3 L484.6,1230.0 L488.9,1231.6 L493.2,1233.1 L497.4,1234.6 L501.7,1235.8 L506.0,1236.9 L510.3,1237.8 L514.6,1238.6 L518.9,1239.1 L523.2,1239.5 L527.4,1239.6 L531.7,1239.5 L536.0,1239.1 L540.3,1238.5 L544.6,1237.6 L548.9,1236.4 L553.1,1234.9 L557.4,1233.2 L561.7,1231.2 L566.0,1229.0 L570.3,1226.6 L574.6,1224.0 L578.8,1221.1 L583.1,1218.1 L587.4,1214.9 L591.7,1211.5 L596.0,1207.8 L600.3,1203.9 L604.6,1199.9 L608.8,1195.5 L613.1,1191.0 L617.4,1186.2 L621.7,1181.2 L626.0,1176.0 L630.3,1170.5 L634.5,1164.8 L638.8,1158.8 L643.1,1152.6 L647.4,1146.2 L651.7,1139.5 L656.0,1132.7 L660.2,1125.7 L664.5,1118.6 L668.8,1111.4 L673.1,1104.2 L677.4,1097.0 L681.7,1089.9 L686.0,1082.8 L690.2,1075.7 L694.5,1068.5 L698.8,1061.3 L703.1,1054.1 L707.4,1046.7 L711.7,1039.2 L715.9,1031.7 L720.2,1024.0 L724.5,1016.1 L728.8,1008.1 L733.1,999.9 L737.4,991.7 L741.6,983.4 L745.9,975.4 L750.2,967.6 L754.5,960.2 L758.8,952.9 L763.1,946.0 L767.4,939.2 L771.6,932.6 L775.9,926.2 L780.2,919.9 L784.5,913.7 L788.8,907.5 L793.1,901.4 L797.3,895.4 L801.6,889.4 L805.9,883.4 L810.2,877.5 L814.5,871.9 L818.8,866.6 L823.0,861.6 L827.3,857.1 L831.6,852.9 L835.9,849.2 L840.2,845.9 L844.5,843.0 L848.8,840.5 L853.0,838.4 L857.3,836.7 L861.6,835.3 L865.9,834.3 L870.2,833.6 L874.5,833.1 L878.7,832.9 L883.0,833.0 L887.3,833.4 L891.6,834.0 L895.9,835.0 L900.2,836.2 L904.4,837.8 L908.7,839.7 L913.0,842.1 L917.3,844.9 L921.6,848.1 L925.9,851.8 L930.2,856.0 L934.4,860.6 L938.7,865.5 L943.0,870.9 L947.3,876.5 L951.6,882.3 L955.9,888.4 L960.1,894.7 L964.4,901.2 L968.7,908.1 L973.0,915.2 L977.3,922.7 L981.6,930.5 L985.8,938.6 L990.1,947.1 L994.4,956.0 L998.7,965.2 L1003.0,974.8 L1007.3,984.8 L1011.6,995.1 L1015.8,1005.7 L1020.1,1016.5 L1024.4,1027.6 L1028.7,1038.8 L1033.0,1050.1 L1037.3,1061.4 L1041.5,1072.7 L1045.8,1083.8 L1050.1,1094.7 L1054.4,1105.5 L1058.7,1116.1 L1063.0,1126.6 L1067.2,1136.9 L1071.5,1147.2 L1075.8,1157.5 L1080.1,1167.7 L1084.4,1177.9 L1088.7,1188.0 L1093.0,1198.2 L1097.2,1208.4 L1101.5,1218.4 L1105.8,1228.3 L1110.1,1237.8 L1114.4,1247.0 L1118.7,1255.8 L1122.9,1264.2 L1127.2,1272.1 L1131.5,1279.5 L1135.8,1286.4 L1140.1,1292.7 L1144.4,1298.6 L1148.6,1304.0 L1152.9,1308.9 L1157.2,1313.4 L1161.5,1317.6 L1165.8,1321.4 L1170.1,1324.9 L1174.4,1328.2 L1178.6,1331.3 L1182.9,1334.1 L1187.2,1336.7 L1191.5,1339.2 L1195.8,1341.5 L1200.1,1343.6 L1204.3,1345.5 L1208.6,1347.3 L1212.9,1348.9 L1217.2,1350.4 L1221.5,1351.7 L1225.8,1352.9 L1230.0,1353.9 L1234.3,1354.8 L1238.6,1355.6 L1242.9,1356.3 L1247.2,1356.8 L1251.5,1357.3 L1255.8,1357.8 L1260.0,1358.1 L1264.3,1358.5 L1268.6,1358.8 L1272.9,1359.1 L1277.2,1359.4 L1281.5,1359.7 L1285.7,1360.0 L1290.0,1360.3 L1294.3,1360.5 L1298.6,1360.7 L1302.9,1360.9 L1307.2,1361.1 L1311.4,1361.3 L1315.7,1361.5 L1320.0,1361.7 L1324.3,1361.9 L1328.6,1362.0 L1332.9,1362.1 L1337.2,1362.3 L1341.4,1362.4 L1345.7,1362.5 L1350.0,1362.6 L1354.3,1362.7 L1358.6,1362.8 L1362.9,1362.9 L1367.1,1362.9 L1371.4,1363.0 L1375.7,1363.1 L1380.0,1363.1 L1384.3,1363.2 L1388.6,1363.2 L1392.8,1363.2 L1397.1,1363.3 L1401.4,1363.3 L1405.7,1363.3 L1410.0,1363.3 L1414.3,1363.4 L1418.6,1363.4 L1422.8,1363.4 L1427.1,1363.4 L1431.4,1363.4 L1435.7,1363.4 L1440.0,1363.4 L1444.3,1363.4 L1448.5,1363.4 L1452.8,1363.4 L1457.1,1363.4 L1461.4,1363.4 L1465.7,1363.4 L1470.0,1363.4 L1474.2,1363.4 L1478.5,1363.4 L1482.8,1363.4 L1487.1,1363.4 L1491.4,1363.4 L1495.7,1363.4 L1500.0,1363.4 L1504.2,1363.4 L1508.5,1363.5 L1512.8,1363.5 L1517.1,1363.5 L1521.4,1363.5 L1525.7,1363.5 L1529.9,1363.5 L1534.2,1363.5 L1538.5,1363.5 L1542.8,1363.5 L1547.1,1363.5 L1551.4,1363.5 L1555.6,1363.5 L1559.9,1363.5 L1564.2,1363.5 L1568.5,1363.5 L1572.8,1363.5 L1577.1,1363.5 L1581.4,1363.6 L1585.6,1363.6 L1589.9,1363.6 L1594.2,1363.6 L1598.5,1363.6 L1602.8,1363.6 L1607.1,1363.6 L1611.3,1363.6 L1615.6,1363.6 L1619.9,1363.6 L1624.2,1363.6 L1628.5,1363.6 L1632.8,1363.6 L1637.0,1363.6 L1641.3,1363.6 L1645.6,1363.7 L1649.9,1363.7 L1654.2,1363.7 L1658.5,1363.7 L1662.8,1363.7 L1667.0,1363.7 L1671.3,1363.7 L1675.6,1363.7 L1679.9,1363.7 L1684.2,1363.7 L1688.5,1363.7 L1692.7,1363.7 L1697.0,1363.7 L1701.3,1363.7 L1705.6,1363.7 L1709.9,1363.7 L1714.2,1363.7 L1718.4,1363.7 L1722.7,1363.7 L1727.0,1363.7 L1731.3,1363.8 L1735.6,1363.8 L1739.9,1363.8 L1744.2,1363.8 L1748.4,1363.8 L1752.7,1363.8 L1757.0,1363.8 L1761.3,1363.8 L1765.6,1363.8 L1769.9,1363.8 L1774.1,1363.8 L1778.4,1363.8 L1782.7,1363.8 L1787.0,1363.8 L1791.3,1363.8 L1795.6,1363.8 L1799.8,1363.8 L1804.1,1363.8 L1808.4,1363.8 L1812.7,1363.8 L1817.0,1363.8 L1821.3,1363.8 L1825.6,1363.8 L1829.8,1363.8 L1834.1,1363.7 L1838.4,1363.7 L1842.7,1363.7 L1847.0,1363.7 L1851.3,1363.7 L1855.5,1363.7 L1859.8,1363.7 L1864.1,1363.7 L1868.4,1363.7 L1872.7,1363.7 L1877.0,1363.7 L1881.2,1363.7 L1885.5,1363.7 L1889.8,1363.7 L1894.1,1363.6 L1898.1,1363.6"/>
</g>
<g stroke="#1A6FDF">
<path d="M257.7,1220.3 L261.9,1218.5 L266.2,1216.9 L270.5,1215.5 L274.8,1214.5 L279.0,1213.6 L283.3,1213.0 L287.6,1212.5 L291.9,1212.2 L296.2,1211.9 L300.5,1211.6 L304.7,1211.1 L309.0,1210.5 L313.3,1209.8 L317.6,1209.1 L321.9,1208.5 L326.2,1208.0 L330.4,1207.5 L334.7,1207.2 L339.0,1207.0 L343.3,1206.8 L347.6,1206.8 L351.9,1206.8 L356.2,1206.9 L360.4,1207.1 L364.7,1207.3 L369.0,1207.7 L373.3,1208.1 L377.6,1208.6 L381.9,1209.1 L386.1,1209.8 L390.4,1210.5 L394.7,1211.2 L399.0,1212.0 L403.3,1212.9 L407.6,1213.8 L411.8,1214.8 L416.1,1215.8 L420.4,1216.9 L424.7,1218.1 L429.0,1219.3 L433.3,1220.5 L437.6,1221.8 L441.8,1223.2 L446.1,1224.5 L450.4,1226.0 L454.7,1227.5 L459.0,1229.0 L463.3,1230.6 L467.5,1232.2 L471.8,1233.9 L476.1,1235.5 L480.4,1237.2 L484.7,1238.7 L489.0,1240.2 L493.2,1241.5 L497.5,1242.7 L501.8,1243.7 L506.1,1244.6 L510.4,1245.3 L514.7,1245.8 L519.0,1246.1 L523.2,1246.2 L527.5,1246.1 L531.8,1245.7 L536.1,1245.1 L540.4,1244.3 L544.7,1243.1 L548.9,1241.7 L553.2,1240.1 L557.5,1238.2 L561.8,1236.1 L566.1,1233.8 L570.4,1231.2 L574.6,1228.5 L578.9,1225.6 L583.2,1222.4 L587.5,1219.1 L591.8,1215.5 L596.1,1211.7 L600.4,1207.6 L604.6,1203.3 L608.9,1198.8 L613.2,1194.0 L617.5,1188.9 L621.8,1183.6 L626.1,1178.0 L630.3,1172.2 L634.6,1166.1 L638.9,1159.8 L643.2,1153.2 L647.5,1146.4 L651.8,1139.4 L656.0,1132.3 L660.3,1125.1 L664.6,1117.8 L668.9,1110.5 L673.2,1103.2 L677.5,1095.9 L681.8,1088.7 L686.0,1081.5 L690.3,1074.2 L694.6,1067.0 L698.9,1059.7 L703.2,1052.3 L707.5,1044.8 L711.7,1037.3 L716.0,1029.6 L720.3,1021.7 L724.6,1013.7 L728.9,1005.5 L733.2,997.2 L737.4,989.0 L741.7,980.9 L746.0,973.1 L750.3,965.7 L754.6,958.5 L758.9,951.5 L763.2,944.7 L767.4,938.1 L771.7,931.7 L776.0,925.4 L780.3,919.2 L784.6,913.0 L788.9,907.0 L793.1,901.0 L797.4,895.0 L801.7,889.0 L806.0,883.2 L810.3,877.6 L814.6,872.4 L818.8,867.5 L823.1,862.9 L827.4,858.8 L831.7,855.2 L836.0,851.9 L840.3,849.1 L844.6,846.7 L848.8,844.6 L853.1,843.0 L857.4,841.7 L861.7,840.7 L866.0,840.0 L870.3,839.6 L874.5,839.4 L878.8,839.5 L883.1,839.9 L887.4,840.5 L891.7,841.4 L896.0,842.6 L900.2,844.1 L904.5,846.0 L908.8,848.3 L913.1,851.0 L917.4,854.2 L921.7,857.8 L926.0,861.9 L930.2,866.4 L934.5,871.3 L938.8,876.6 L943.1,882.1 L947.4,887.9 L951.7,893.9 L955.9,900.2 L960.2,906.7 L964.5,913.5 L968.8,920.6 L973.1,928.0 L977.4,935.7 L981.6,943.8 L985.9,952.2 L990.2,961.0 L994.5,970.2 L998.8,979.7 L1003.1,989.6 L1007.4,999.8 L1011.6,1010.3 L1015.9,1021.0 L1020.2,1031.9 L1024.5,1043.0 L1028.8,1054.2 L1033.1,1065.4 L1037.3,1076.5 L1041.6,1087.5 L1045.9,1098.3 L1050.2,1109.0 L1054.5,1119.5 L1058.8,1130.0 L1063.0,1140.3 L1067.3,1150.6 L1071.6,1160.8 L1075.9,1170.9 L1080.2,1181.1 L1084.5,1191.2 L1088.8,1201.4 L1093.0,1211.5 L1097.3,1221.6 L1101.6,1231.4 L1105.9,1240.9 L1110.2,1250.1 L1114.5,1258.9 L1118.7,1267.3 L1123.0,1275.2 L1127.3,1282.6 L1131.6,1289.4 L1135.9,1295.8 L1140.2,1301.6 L1144.4,1307.0 L1148.7,1311.9 L1153.0,1316.4 L1157.3,1320.5 L1161.6,1324.3 L1165.9,1327.9 L1170.2,1331.1 L1174.4,1334.2 L1178.7,1336.9 L1183.0,1339.5 L1187.3,1341.9 L1191.6,1344.1 L1195.9,1346.2 L1200.1,1348.0 L1204.4,1349.7 L1208.7,1351.3 L1213.0,1352.7 L1217.3,1353.9 L1221.6,1355.0 L1225.8,1355.9 L1230.1,1356.7 L1234.4,1357.5 L1238.7,1358.1 L1243.0,1358.6 L1247.3,1359.1 L1251.6,1359.6 L1255.8,1359.9 L1260.1,1360.3 L1264.4,1360.6 L1268.7,1360.9 L1273.0,1361.2 L1277.3,1361.5 L1281.5,1361.8 L1285.8,1362.0 L1290.1,1362.3 L1294.4,1362.5 L1298.7,1362.7 L1303.0,1362.9 L1307.2,1363.1 L1311.5,1363.3 L1315.8,1363.4 L1320.1,1363.6 L1324.4,1363.8 L1328.7,1363.9 L1333.0,1364.0 L1337.2,1364.1 L1341.5,1364.2 L1345.8,1364.3 L1350.1,1364.4 L1354.4,1364.5 L1358.7,1364.6 L1362.9,1364.7 L1367.2,1364.7 L1371.5,1364.8 L1375.8,1364.8 L1380.1,1364.9 L1384.4,1364.9 L1388.6,1364.9 L1392.9,1365.0 L1397.2,1365.0 L1401.5,1365.0 L1405.8,1365.0 L1410.1,1365.0 L1414.4,1365.1 L1418.6,1365.1 L1422.9,1365.1 L1427.2,1365.1 L1431.5,1365.1 L1435.8,1365.1 L1440.1,1365.1 L1444.3,1365.1 L1448.6,1365.1 L1452.9,1365.1 L1457.2,1365.1 L1461.5,1365.1 L1465.8,1365.1 L1470.0,1365.1 L1474.3,1365.1 L1478.6,1365.1 L1482.9,1365.1 L1487.2,1365.1 L1491.5,1365.1 L1495.8,1365.1 L1500.0,1365.1 L1504.3,1365.1 L1508.6,1365.1 L1512.9,1365.1 L1517.2,1365.1 L1521.5,1365.1 L1525.7,1365.1 L1530.0,1365.1 L1534.3,1365.1 L1538.6,1365.1 L1542.9,1365.1 L1547.2,1365.1 L1551.4,1365.2 L1555.7,1365.2 L1560.0,1365.2 L1564.3,1365.2 L1568.6,1365.2 L1572.9,1365.2 L1577.2,1365.2 L1581.4,1365.2 L1585.7,1365.2 L1590.0,1365.2 L1594.3,1365.2 L1598.6,1365.2 L1602.9,1365.2 L1607.1,1365.2 L1611.4,1365.2 L1615.7,1365.2 L1620.0,1365.2 L1624.3,1365.2 L1628.6,1365.3 L1632.8,1365.3 L1637.1,1365.3 L1641.4,1365.3 L1645.7,1365.3 L1650.0,1365.3 L1654.3,1365.3 L1658.6,1365.3 L1662.8,1365.3 L1667.1,1365.3 L1671.4,1365.3 L1675.7,1365.3 L1680.0,1365.3 L1684.3,1365.3 L1688.5,1365.3 L1692.8,1365.3 L1697.1,1365.3 L1701.4,1365.3 L1705.7,1365.3 L1710.0,1365.3 L1714.2,1365.4 L1718.5,1365.4 L1722.8,1365.4 L1727.1,1365.4 L1731.4,1365.4 L1735.7,1365.4 L1740.0,1365.4 L1744.2,1365.4 L1748.5,1365.4 L1752.8,1365.4 L1757.1,1365.4 L1761.4,1365.4 L1765.7,1365.4 L1769.9,1365.4 L1774.2,1365.4 L1778.5,1365.4 L1782.8,1365.4 L1787.1,1365.4 L1791.4,1365.4 L1795.6,1365.4 L1799.9,1365.4 L1804.2,1365.4 L1808.5,1365.4 L1812.8,1365.4 L1817.1,1365.4 L1821.4,1365.4 L1825.6,1365.4 L1829.9,1365.3 L1834.2,1365.3 L1838.5,1365.3 L1842.8,1365.3 L1847.1,1365.3 L1851.3,1365.3 L1855.6,1365.3 L1859.9,1365.3 L1864.2,1365.3 L1868.5,1365.3 L1872.8,1365.3 L1877.0,1365.3 L1881.3,1365.3 L1885.6,1365.3 L1889.9,1365.2 L1893.9,1365.2"/>
<path d="M261.9,1220.3 L266.1,1218.5 L270.4,1216.9 L274.7,1215.5 L279.0,1214.5 L283.2,1213.6 L287.5,1213.0 L291.8,1212.5 L296.1,1212.2 L300.4,1211.9 L304.7,1211.6 L308.9,1211.1 L313.2,1210.5 L317.5,1209.8 L321.8,1209.1 L326.1,1208.5 L330.4,1208.0 L334.6,1207.5 L338.9,1207.2 L343.2,1207.0 L347.5,1206.8 L351.8,1206.8 L356.1,1206.8 L360.4,1206.9 L364.6,1207.1 L368.9,1207.3 L373.2,1207.7 L377.5,1208.1 L381.8,1208.6 L386.1,1209.1 L390.3,1209.8 L394.6,1210.5 L398.9,1211.2 L403.2,1212.0 L407.5,1212.9 L411.8,1213.8 L416.0,1214.8 L420.3,1215.8 L424.6,1216.9 L428.9,1218.1 L433.2,1219.3 L437.5,1220.5 L441.8,1221.8 L446.0,1223.2 L450.3,1224.5 L454.6,1226.0 L458.9,1227.5 L463.2,1229.0 L467.5,1230.6 L471.7,1232.2 L476.0,1233.9 L480.3,1235.5 L484.6,1237.2 L488.9,1238.7 L493.2,1240.2 L497.4,1241.5 L501.7,1242.7 L506.0,1243.7 L510.3,1244.6 L514.6,1245.3 L518.9,1245.8 L523.2,1246.1 L527.4,1246.2 L531.7,1246.1 L536.0,1245.7 L540.3,1245.1 L544.6,1244.3 L548.9,1243.1 L553.1,1241.7 L557.4,1240.1 L561.7,1238.2 L566.0,1236.1 L570.3,1233.8 L574.6,1231.2 L578.8,1228.5 L583.1,1225.6 L587.4,1222.4 L591.7,1219.1 L596.0,1215.5 L600.3,1211.7 L604.6,1207.6 L608.8,1203.3 L613.1,1198.8 L617.4,1194.0 L621.7,1188.9 L626.0,1183.6 L630.3,1178.0 L634.5,1172.2 L638.8,1166.1 L643.1,1159.8 L647.4,1153.2 L651.7,1146.4 L656.0,1139.4 L660.2,1132.3 L664.5,1125.1 L668.8,1117.8 L673.1,1110.5 L677.4,1103.2 L681.7,1095.9 L686.0,1088.7 L690.2,1081.5 L694.5,1074.2 L698.8,1067.0 L703.1,1059.7 L707.4,1052.3 L711.7,1044.8 L715.9,1037.3 L720.2,1029.6 L724.5,1021.7 L728.8,1013.7 L733.1,1005.5 L737.4,997.2 L741.6,989.0 L745.9,980.9 L750.2,973.1 L754.5,965.7 L758.8,958.5 L763.1,951.5 L767.4,944.7 L771.6,938.1 L775.9,931.7 L780.2,925.4 L784.5,919.2 L788.8,913.0 L793.1,907.0 L797.3,901.0 L801.6,895.0 L805.9,889.0 L810.2,883.2 L814.5,877.6 L818.8,872.4 L823.0,867.5 L827.3,862.9 L831.6,858.8 L835.9,855.2 L840.2,851.9 L844.5,849.1 L848.8,846.7 L853.0,844.6 L857.3,843.0 L861.6,841.7 L865.9,840.7 L870.2,840.0 L874.5,839.6 L878.7,839.4 L883.0,839.5 L887.3,839.9 L891.6,840.5 L895.9,841.4 L900.2,842.6 L904.4,844.1 L908.7,846.0 L913.0,848.3 L917.3,851.0 L921.6,854.2 L925.9,857.8 L930.2,861.9 L934.4,866.4 L938.7,871.3 L943.0,876.6 L947.3,882.1 L951.6,887.9 L955.9,893.9 L960.1,900.2 L964.4,906.7 L968.7,913.5 L973.0,920.6 L977.3,928.0 L981.6,935.7 L985.8,943.8 L990.1,952.2 L994.4,961.0 L998.7,970.2 L1003.0,979.7 L1007.3,989.6 L1011.6,999.8 L1015.8,1010.3 L1020.1,1021.0 L1024.4,1031.9 L1028.7,1043.0 L1033.0,1054.2 L1037.3,1065.4 L1041.5,1076.5 L1045.8,1087.5 L1050.1,1098.3 L1054.4,1109.0 L1058.7,1119.5 L1063.0,1130.0 L1067.2,1140.3 L1071.5,1150.6 L1075.8,1160.8 L1080.1,1170.9 L1084.4,1181.1 L1088.7,1191.2 L1093.0,1201.4 L1097.2,1211.5 L1101.5,1221.6 L1105.8,1231.4 L1110.1,1240.9 L1114.4,1250.1 L1118.7,1258.9 L1122.9,1267.3 L1127.2,1275.2 L1131.5,1282.6 L1135.8,1289.4 L1140.1,1295.8 L1144.4,1301.6 L1148.6,1307.0 L1152.9,1311.9 L1157.2,1316.4 L1161.5,1320.5 L1165.8,1324.3 L1170.1,1327.9 L1174.4,1331.1 L1178.6,1334.2 L1182.9,1336.9 L1187.2,1339.5 L1191.5,1341.9 L1195.8,1344.1 L1200.1,1346.2 L1204.3,1348.0 L1208.6,1349.7 L1212.9,1351.3 L1217.2,1352.7 L1221.5,1353.9 L1225.8,1355.0 L1230.0,1355.9 L1234.3,1356.7 L1238.6,1357.5 L1242.9,1358.1 L1247.2,1358.6 L1251.5,1359.1 L1255.8,1359.6 L1260.0,1359.9 L1264.3,1360.3 L1268.6,1360.6 L1272.9,1360.9 L1277.2,1361.2 L1281.5,1361.5 L1285.7,1361.8 L1290.0,1362.0 L1294.3,1362.3 L1298.6,1362.5 L1302.9,1362.7 L1307.2,1362.9 L1311.4,1363.1 L1315.7,1363.3 L1320.0,1363.4 L1324.3,1363.6 L1328.6,1363.8 L1332.9,1363.9 L1337.2,1364.0 L1341.4,1364.1 L1345.7,1364.2 L1350.0,1364.3 L1354.3,1364.4 L1358.6,1364.5 L1362.9,1364.6 L1367.1,1364.7 L1371.4,1364.7 L1375.7,1364.8 L1380.0,1364.8 L1384.3,1364.9 L1388.6,1364.9 L1392.8,1364.9 L1397.1,1365.0 L1401.4,1365.0 L1405.7,1365.0 L1410.0,1365.0 L1414.3,1365.0 L1418.6,1365.1 L1422.8,1365.1 L1427.1,1365.1 L1431.4,1365.1 L1435.7,1365.1 L1440.0,1365.1 L1444.3,1365.1 L1448.5,1365.1 L1452.8,1365.1 L1457.1,1365.1 L1461.4,1365.1 L1465.7,1365.1 L1470.0,1365.1 L1474.2,1365.1 L1478.5,1365.1 L1482.8,1365.1 L1487.1,1365.1 L1491.4,1365.1 L1495.7,1365.1 L1500.0,1365.1 L1504.2,1365.1 L1508.5,1365.1 L1512.8,1365.1 L1517.1,1365.1 L1521.4,1365.1 L1525.7,1365.1 L1529.9,1365.1 L1534.2,1365.1 L1538.5,1365.1 L1542.8,1365.1 L1547.1,1365.1 L1551.4,1365.1 L1555.6,1365.2 L1559.9,1365.2 L1564.2,1365.2 L1568.5,1365.2 L1572.8,1365.2 L1577.1,1365.2 L1581.4,1365.2 L1585.6,1365.2 L1589.9,1365.2 L1594.2,1365.2 L1598.5,1365.2 L1602.8,1365.2 L1607.1,1365.2 L1611.3,1365.2 L1615.6,1365.2 L1619.9,1365.2 L1624.2,1365.2 L1628.5,1365.2 L1632.8,1365.3 L1637.0,1365.3 L1641.3,1365.3 L1645.6,1365.3 L1649.9,1365.3 L1654.2,1365.3 L1658.5,1365.3 L1662.8,1365.3 L1667.0,1365.3 L1671.3,1365.3 L1675.6,1365.3 L1679.9,1365.3 L1684.2,1365.3 L1688.5,1365.3 L1692.7,1365.3 L1697.0,1365.3 L1701.3,1365.3 L1705.6,1365.3 L1709.9,1365.3 L1714.2,1365.3 L1718.4,1365.4 L1722.7,1365.4 L1727.0,1365.4 L1731.3,1365.4 L1735.6,1365.4 L1739.9,1365.4 L1744.2,1365.4 L1748.4,1365.4 L1752.7,1365.4 L1757.0,1365.4 L1761.3,1365.4 L1765.6,1365.4 L1769.9,1365.4 L1774.1,1365.4 L1778.4,1365.4 L1782.7,1365.4 L1787.0,1365.4 L1791.3,1365.4 L1795.6,1365.4 L1799.8,1365.4 L1804.1,1365.4 L1808.4,1365.4 L1812.7,1365.4 L1817.0,1365.4 L1821.3,1365.4 L1825.6,1365.4 L1829.8,1365.4 L1834.1,1365.3 L1838.4,1365.3 L1842.7,1365.3 L1847.0,1365.3 L1851.3,1365.3 L1855.5,1365.3 L1859.8,1365.3 L1864.1,1365.3 L1868.4,1365.3 L1872.7,1365.3 L1877.0,1365.3 L1881.2,1365.3 L1885.5,1365.3 L1889.8,1365.3 L1894.1,1365.2 L1898.1,1365.2"/>
<path d="M257.7,1223.7 L261.9,1221.9 L266.2,1220.3 L270.5,1218.9 L274.8,1217.9 L279.0,1217.0 L283.3,1216.4 L287.6,1215.9 L291.9,1215.6 L296.2,1215.3 L300.5,1215.0 L304.7,1214.5 L309.0,1213.9 L313.3,1213.2 L317.6,1212.5 L321.9,1211.9 L326.2,1211.4 L330.4,1210.9 L334.7,1210.6 L339.0,1210.4 L343.3,1210.2 L347.6,1210.2 L351.9,1210.2 L356.2,1210.3 L360.4,1210.5 L364.7,1210.7 L369.0,1211.1 L373.3,1211.5 L377.6,1212.0 L381.9,1212.5 L386.1,1213.2 L390.4,1213.9 L394.7,1214.6 L399.0,1215.4 L403.3,1216.3 L407.6,1217.2 L411.8,1218.2 L416.1,1219.2 L420.4,1220.3 L424.7,1221.5 L429.0,1222.7 L433.3,1223.9 L437.6,1225.2 L441.8,1226.6 L446.1,1227.9 L450.4,1229.4 L454.7,1230.9 L459.0,1232.4 L463.3,1234.0 L467.5,1235.6 L471.8,1237.3 L476.1,1238.9 L480.4,1240.6 L484.7,1242.1 L489.0,1243.6 L493.2,1244.9 L497.5,1246.1 L501.8,1247.1 L506.1,1248.0 L510.4,1248.7 L514.7,1249.2 L519.0,1249.5 L523.2,1249.6 L527.5,1249.5 L531.8,1249.1 L536.1,1248.5 L540.4,1247.7 L544.7,1246.5 L548.9,1245.1 L553.2,1243.5 L557.5,1241.6 L561.8,1239.5 L566.1,1237.2 L570.4,1234.6 L574.6,1231.9 L578.9,1229.0 L583.2,1225.8 L587.5,1222.5 L591.8,1218.9 L596.1,1215.1 L600.4,1211.0 L604.6,1206.7 L608.9,1202.2 L613.2,1197.4 L617.5,1192.3 L621.8,1187.0 L626.1,1181.4 L630.3,1175.6 L634.6,1169.5 L638.9,1163.2 L643.2,1156.6 L647.5,1149.8 L651.8,1142.8 L656.0,1135.7 L660.3,1128.5 L664.6,1121.2 L668.9,1113.9 L673.2,1106.6 L677.5,1099.3 L681.8,1092.1 L686.0,1084.9 L690.3,1077.6 L694.6,1070.4 L698.9,1063.1 L703.2,1055.7 L707.5,1048.2 L711.7,1040.7 L716.0,1033.0 L720.3,1025.1 L724.6,1017.1 L728.9,1008.9 L733.2,1000.6 L737.4,992.4 L741.7,984.3 L746.0,976.5 L750.3,969.1 L754.6,961.9 L758.9,954.9 L763.2,948.1 L767.4,941.5 L771.7,935.1 L776.0,928.8 L780.3,922.6 L784.6,916.4 L788.9,910.4 L793.1,904.4 L797.4,898.4 L801.7,892.4 L806.0,886.6 L810.3,881.0 L814.6,875.8 L818.8,870.9 L823.1,866.3 L827.4,862.2 L831.7,858.6 L836.0,855.3 L840.3,852.5 L844.6,850.1 L848.8,848.0 L853.1,846.4 L857.4,845.1 L861.7,844.1 L866.0,843.4 L870.3,843.0 L874.5,842.8 L878.8,842.9 L883.1,843.3 L887.4,843.9 L891.7,844.8 L896.0,846.0 L900.2,847.5 L904.5,849.4 L908.8,851.7 L913.1,854.4 L917.4,857.6 L921.7,861.2 L926.0,865.3 L930.2,869.8 L934.5,874.7 L938.8,880.0 L943.1,885.5 L947.4,891.3 L951.7,897.3 L955.9,903.6 L960.2,910.1 L964.5,916.9 L968.8,924.0 L973.1,931.4 L977.4,939.1 L981.6,947.2 L985.9,955.6 L990.2,964.4 L994.5,973.6 L998.8,983.1 L1003.1,993.0 L1007.4,1003.2 L1011.6,1013.7 L1015.9,1024.4 L1020.2,1035.3 L1024.5,1046.4 L1028.8,1057.6 L1033.1,1068.8 L1037.3,1079.9 L1041.6,1090.9 L1045.9,1101.7 L1050.2,1112.4 L1054.5,1122.9 L1058.8,1133.4 L1063.0,1143.7 L1067.3,1154.0 L1071.6,1164.2 L1075.9,1174.3 L1080.2,1184.5 L1084.5,1194.6 L1088.8,1204.8 L1093.0,1214.9 L1097.3,1225.0 L1101.6,1234.8 L1105.9,1244.3 L1110.2,1253.5 L1114.5,1262.3 L1118.7,1270.7 L1123.0,1278.6 L1127.3,1286.0 L1131.6,1292.8 L1135.9,1299.2 L1140.2,1305.0 L1144.4,1310.4 L1148.7,1315.3 L1153.0,1319.8 L1157.3,1323.9 L1161.6,1327.7 L1165.9,1331.3 L1170.2,1334.5 L1174.4,1337.6 L1178.7,1340.3 L1183.0,1342.9 L1187.3,1345.3 L1191.6,1347.5 L1195.9,1349.6 L1200.1,1351.4 L1204.4,1353.1 L1208.7,1354.7 L1213.0,1356.1 L1217.3,1357.3 L1221.6,1358.4 L1225.8,1359.3 L1230.1,1360.1 L1234.4,1360.9 L1238.7,1361.5 L1243.0,1362.0 L1247.3,1362.5 L1251.6,1363.0 L1255.8,1363.3 L1260.1,1363.7 L1264.4,1364.0 L1268.7,1364.3 L1273.0,1364.6 L1277.3,1364.9 L1281.5,1365.2 L1285.8,1365.4 L1290.1,1365.7 L1294.4,1365.9 L1298.7,1366.1 L1303.0,1366.3 L1307.2,1366.5 L1311.5,1366.7 L1315.8,1366.8 L1320.1,1367.0 L1324.4,1367.2 L1328.7,1367.3 L1333.0,1367.4 L1337.2,1367.5 L1341.5,1367.6 L1345.8,1367.7 L1350.1,1367.8 L1354.4,1367.9 L1358.7,1368.0 L1362.9,1368.1 L1367.2,1368.1 L1371.5,1368.2 L1375.8,1368.2 L1380.1,1368.3 L1384.4,1368.3 L1388.6,1368.3 L1392.9,1368.4 L1397.2,1368.4 L1401.5,1368.4 L1405.8,1368.4 L1410.1,1368.4 L1414.4,1368.5 L1418.6,1368.5 L1422.9,1368.5 L1427.2,1368.5 L1431.5,1368.5 L1435.8,1368.5 L1440.1,1368.5 L1444.3,1368.5 L1448.6,1368.5 L1452.9,1368.5 L1457.2,1368.5 L1461.5,1368.5 L1465.8,1368.5 L1470.0,1368.5 L1474.3,1368.5 L1478.6,1368.5 L1482.9,1368.5 L1487.2,1368.5 L1491.5,1368.5 L1495.8,1368.5 L1500.0,1368.5 L1504.3,1368.5 L1508.6,1368.5 L1512.9,1368.5 L1517.2,1368.5 L1521.5,1368.5 L1525.7,1368.5 L1530.0,1368.5 L1534.3,1368.5 L1538.6,1368.5 L1542.9,1368.5 L1547.2,1368.5 L1551.4,1368.6 L1555.7,1368.6 L1560.0,1368.6 L1564.3,1368.6 L1568.6,1368.6 L1572.9,1368.6 L1577.2,1368.6 L1581.4,1368.6 L1585.7,1368.6 L1590.0,1368.6 L1594.3,1368.6 L1598.6,1368.6 L1602.9,1368.6 L1607.1,1368.6 L1611.4,1368.6 L1615.7,1368.6 L1620.0,1368.6 L1624.3,1368.6 L1628.6,1368.7 L1632.8,1368.7 L1637.1,1368.7 L1641.4,1368.7 L1645.7,1368.7 L1650.0,1368.7 L1654.3,1368.7 L1658.6,1368.7 L1662.8,1368.7 L1667.1,1368.7 L1671.4,1368.7 L1675.7,1368.7 L1680.0,1368.7 L1684.3,1368.7 L1688.5,1368.7 L1692.8,1368.7 L1697.1,1368.7 L1701.4,1368.7 L1705.7,1368.7 L1710.0,1368.7 L1714.2,1368.8 L1718.5,1368.8 L1722.8,1368.8 L1727.1,1368.8 L1731.4,1368.8 L1735.7,1368.8 L1740.0,1368.8 L1744.2,1368.8 L1748.5,1368.8 L1752.8,1368.8 L1757.1,1368.8 L1761.4,1368.8 L1765.7,1368.8 L1769.9,1368.8 L1774.2,1368.8 L1778.5,1368.8 L1782.8,1368.8 L1787.1,1368.8 L1791.4,1368.8 L1795.6,1368.8 L1799.9,1368.8 L1804.2,1368.8 L1808.5,1368.8 L1812.8,1368.8 L1817.1,1368.8 L1821.4,1368.8 L1825.6,1368.8 L1829.9,1368.7 L1834.2,1368.7 L1838.5,1368.7 L1842.8,1368.7 L1847.1,1368.7 L1851.3,1368.7 L1855.6,1368.7 L1859.9,1368.7 L1864.2,1368.7 L1868.5,1368.7 L1872.8,1368.7 L1877.0,1368.7 L1881.3,1368.7 L1885.6,1368.7 L1889.9,1368.6 L1893.9,1368.6"/>
<path d="M261.9,1223.7 L266.1,1221.9 L270.4,1220.3 L274.7,1218.9 L279.0,1217.9 L283.2,1217.0 L287.5,1216.4 L291.8,1215.9 L296.1,1215.6 L300.4,1215.3 L304.7,1215.0 L308.9,1214.5 L313.2,1213.9 L317.5,1213.2 L321.8,1212.5 L326.1,1211.9 L330.4,1211.4 L334.6,1210.9 L338.9,1210.6 L343.2,1210.4 L347.5,1210.2 L351.8,1210.2 L356.1,1210.2 L360.4,1210.3 L364.6,1210.5 L368.9,1210.7 L373.2,1211.1 L377.5,1211.5 L381.8,1212.0 L386.1,1212.5 L390.3,1213.2 L394.6,1213.9 L398.9,1214.6 L403.2,1215.4 L407.5,1216.3 L411.8,1217.2 L416.0,1218.2 L420.3,1219.2 L424.6,1220.3 L428.9,1221.5 L433.2,1222.7 L437.5,1223.9 L441.8,1225.2 L446.0,1226.6 L450.3,1227.9 L454.6,1229.4 L458.9,1230.9 L463.2,1232.4 L467.5,1234.0 L471.7,1235.6 L476.0,1237.3 L480.3,1238.9 L484.6,1240.6 L488.9,1242.1 L493.2,1243.6 L497.4,1244.9 L501.7,1246.1 L506.0,1247.1 L510.3,1248.0 L514.6,1248.7 L518.9,1249.2 L523.2,1249.5 L527.4,1249.6 L531.7,1249.5 L536.0,1249.1 L540.3,1248.5 L544.6,1247.7 L548.9,1246.5 L553.1,1245.1 L557.4,1243.5 L561.7,1241.6 L566.0,1239.5 L570.3,1237.2 L574.6,1234.6 L578.8,1231.9 L583.1,1229.0 L587.4,1225.8 L591.7,1222.5 L596.0,1218.9 L600.3,1215.1 L604.6,1211.0 L608.8,1206.7 L613.1,1202.2 L617.4,1197.4 L621.7,1192.3 L626.0,1187.0 L630.3,1181.4 L634.5,1175.6 L638.8,1169.5 L643.1,1163.2 L647.4,1156.6 L651.7,1149.8 L656.0,1142.8 L660.2,1135.7 L664.5,1128.5 L668.8,1121.2 L673.1,1113.9 L677.4,1106.6 L681.7,1099.3 L686.0,1092.1 L690.2,1084.9 L694.5,1077.6 L698.8,1070.4 L703.1,1063.1 L707.4,1055.7 L711.7,1048.2 L715.9,1040.7 L720.2,1033.0 L724.5,1025.1 L728.8,1017.1 L733.1,1008.9 L737.4,1000.6 L741.6,992.4 L745.9,984.3 L750.2,976.5 L754.5,969.1 L758.8,961.9 L763.1,954.9 L767.4,948.1 L771.6,941.5 L775.9,935.1 L780.2,928.8 L784.5,922.6 L788.8,916.4 L793.1,910.4 L797.3,904.4 L801.6,898.4 L805.9,892.4 L810.2,886.6 L814.5,881.0 L818.8,875.8 L823.0,870.9 L827.3,866.3 L831.6,862.2 L835.9,858.6 L840.2,855.3 L844.5,852.5 L848.8,850.1 L853.0,848.0 L857.3,846.4 L861.6,845.1 L865.9,844.1 L870.2,843.4 L874.5,843.0 L878.7,842.8 L883.0,842.9 L887.3,843.3 L891.6,843.9 L895.9,844.8 L900.2,846.0 L904.4,847.5 L908.7,849.4 L913.0,851.7 L917.3,854.4 L921.6,857.6 L925.9,861.2 L930.2,865.3 L934.4,869.8 L938.7,874.7 L943.0,880.0 L947.3,885.5 L951.6,891.3 L955.9,897.3 L960.1,903.6 L964.4,910.1 L968.7,916.9 L973.0,924.0 L977.3,931.4 L981.6,939.1 L985.8,947.2 L990.1,955.6 L994.4,964.4 L998.7,973.6 L1003.0,983.1 L1007.3,993.0 L1011.6,1003.2 L1015.8,1013.7 L1020.1,1024.4 L1024.4,1035.3 L1028.7,1046.4 L1033.0,1057.6 L1037.3,1068.8 L1041.5,1079.9 L1045.8,1090.9 L1050.1,1101.7 L1054.4,1112.4 L1058.7,1122.9 L1063.0,1133.4 L1067.2,1143.7 L1071.5,1154.0 L1075.8,1164.2 L1080.1,1174.3 L1084.4,1184.5 L1088.7,1194.6 L1093.0,1204.8 L1097.2,1214.9 L1101.5,1225.0 L1105.8,1234.8 L1110.1,1244.3 L1114.4,1253.5 L1118.7,1262.3 L1122.9,1270.7 L1127.2,1278.6 L1131.5,1286.0 L1135.8,1292.8 L1140.1,1299.2 L1144.4,1305.0 L1148.6,1310.4 L1152.9,1315.3 L1157.2,1319.8 L1161.5,1323.9 L1165.8,1327.7 L1170.1,1331.3 L1174.4,1334.5 L1178.6,1337.6 L1182.9,1340.3 L1187.2,1342.9 L1191.5,1345.3 L1195.8,1347.5 L1200.1,1349.6 L1204.3,1351.4 L1208.6,1353.1 L1212.9,1354.7 L1217.2,1356.1 L1221.5,1357.3 L1225.8,1358.4 L1230.0,1359.3 L1234.3,1360.1 L1238.6,1360.9 L1242.9,1361.5 L1247.2,1362.0 L1251.5,1362.5 L1255.8,1363.0 L1260.0,1363.3 L1264.3,1363.7 L1268.6,1364.0 L1272.9,1364.3 L1277.2,1364.6 L1281.5,1364.9 L1285.7,1365.2 L1290.0,1365.4 L1294.3,1365.7 L1298.6,1365.9 L1302.9,1366.1 L1307.2,1366.3 L1311.4,1366.5 L1315.7,1366.7 L1320.0,1366.8 L1324.3,1367.0 L1328.6,1367.2 L1332.9,1367.3 L1337.2,1367.4 L1341.4,1367.5 L1345.7,1367.6 L1350.0,1367.7 L1354.3,1367.8 L1358.6,1367.9 L1362.9,1368.0 L1367.1,1368.1 L1371.4,1368.1 L1375.7,1368.2 L1380.0,1368.2 L1384.3,1368.3 L1388.6,1368.3 L1392.8,1368.3 L1397.1,1368.4 L1401.4,1368.4 L1405.7,1368.4 L1410.0,1368.4 L1414.3,1368.4 L1418.6,1368.5 L1422.8,1368.5 L1427.1,1368.5 L1431.4,1368.5 L1435.7,1368.5 L1440.0,1368.5 L1444.3,1368.5 L1448.5,1368.5 L1452.8,1368.5 L1457.1,1368.5 L1461.4,1368.5 L1465.7,1368.5 L1470.0,1368.5 L1474.2,1368.5 L1478.5,1368.5 L1482.8,1368.5 L1487.1,1368.5 L1491.4,1368.5 L1495.7,1368.5 L1500.0,1368.5 L1504.2,1368.5 L1508.5,1368.5 L1512.8,1368.5 L1517.1,1368.5 L1521.4,1368.5 L1525.7,1368.5 L1529.9,1368.5 L1534.2,1368.5 L1538.5,1368.5 L1542.8,1368.5 L1547.1,1368.5 L1551.4,1368.5 L1555.6,1368.6 L1559.9,1368.6 L1564.2,1368.6 L1568.5,1368.6 L1572.8,1368.6 L1577.1,1368.6 L1581.4,1368.6 L1585.6,1368.6 L1589.9,1368.6 L1594.2,1368.6 L1598.5,1368.6 L1602.8,1368.6 L1607.1,1368.6 L1611.3,1368.6 L1615.6,1368.6 L1619.9,1368.6 L1624.2,1368.6 L1628.5,1368.6 L1632.8,1368.7 L1637.0,1368.7 L1641.3,1368.7 L1645.6,1368.7 L1649.9,1368.7 L1654.2,1368.7 L1658.5,1368.7 L1662.8,1368.7 L1667.0,1368.7 L1671.3,1368.7 L1675.6,1368.7 L1679.9,1368.7 L1684.2,1368.7 L1688.5,1368.7 L1692.7,1368.7 L1697.0,1368.7 L1701.3,1368.7 L1705.6,1368.7 L1709.9,1368.7 L1714.2,1368.7 L1718.4,1368.8 L1722.7,1368.8 L1727.0,1368.8 L1731.3,1368.8 L1735.6,1368.8 L1739.9,1368.8 L1744.2,1368.8 L1748.4,1368.8 L1752.7,1368.8 L1757.0,1368.8 L1761.3,1368.8 L1765.6,1368.8 L1769.9,1368.8 L1774.1,1368.8 L1778.4,1368.8 L1782.7,1368.8 L1787.0,1368.8 L1791.3,1368.8 L1795.6,1368.8 L1799.8,1368.8 L1804.1,1368.8 L1808.4,1368.8 L1812.7,1368.8 L1817.0,1368.8 L1821.3,1368.8 L1825.6,1368.8 L1829.8,1368.8 L1834.1,1368.7 L1838.4,1368.7 L1842.7,1368.7 L1847.0,1368.7 L1851.3,1368.7 L1855.5,1368.7 L1859.8,1368.7 L1864.1,1368.7 L1868.4,1368.7 L1872.7,1368.7 L1877.0,1368.7 L1881.2,1368.7 L1885.5,1368.7 L1889.8,1368.7 L1894.1,1368.6 L1898.1,1368.6"/>
</g>
</g>
<g shape-rendering="crispEdges">
<rect x="1451" y="139.0" width="163" height="11" fill="#515151"/>
<rect x="1451" y="231.0" width="163" height="11" fill="#F14040"/>
<rect x="1451" y="323.0" width="163" height="11" fill="#1A6FDF"/>
</g>
<g fill="#000" style="font-kerning:none" font-kerning="none">
<text transform="translate(220.6,1388.0) scale(0.977,1)" text-anchor="end" font-family="'Liberation Sans',sans-serif" font-weight="bold" font-style="italic" font-size="75.5" >0.0</text>
<text transform="translate(220.6,1067.75) scale(0.977,1)" text-anchor="end" font-family="'Liberation Sans',sans-serif" font-weight="bold" font-style="italic" font-size="75.5" >0.2</text>
<text transform="translate(220.6,747.5) scale(0.977,1)" text-anchor="end" font-family="'Liberation Sans',sans-serif" font-weight="bold" font-style="italic" font-size="75.5" >0.4</text>
<text transform="translate(220.6,427.25) scale(0.977,1)" text-anchor="end" font-family="'Liberation Sans',sans-serif" font-weight="bold" font-style="italic" font-size="75.5" >0.6</text>
<text transform="translate(220.6,107.0) scale(0.977,1)" text-anchor="end" font-family="'Liberation Sans',sans-serif" font-weight="bold" font-style="italic" font-size="75.5" >0.8</text>
<text transform="translate(609.2368421052631,1484.2) scale(0.968,1)" text-anchor="middle" font-family="'Liberation Sans',sans-serif" font-weight="bold" font-style="italic" font-size="75.5" >400</text>
<text transform="translate(1037.657894736842,1484.2) scale(0.968,1)" text-anchor="middle" font-family="'Liberation Sans',sans-serif" font-weight="bold" font-style="italic" font-size="75.5" >500</text>
<text transform="translate(1466.0789473684213,1484.2) scale(0.968,1)" text-anchor="middle" font-family="'Liberation Sans',sans-serif" font-weight="bold" font-style="italic" font-size="75.5" >600</text>
<text transform="translate(1894.5000000000002,1484.2) scale(0.968,1)" text-anchor="middle" font-family="'Liberation Sans',sans-serif" font-weight="bold" font-style="italic" font-size="75.5" >700</text>
<text transform="translate(1019.7,1565.5) scale(0.983,1)" text-anchor="middle" font-family="'Liberation Sans',sans-serif" font-weight="bold" font-style="italic" font-size="75.5" >Wavelength (nm)</text>
<text transform="translate(78.5,663.4) rotate(-90) scale(0.965,1)" text-anchor="middle" font-family="'Liberation Sans',sans-serif" font-weight="bold" font-style="italic" font-size="75.5" >Absorption (au)</text>
<text transform="translate(1390.5,72) scale(0.93,1)" text-anchor="middle" font-family="'Liberation Sans',sans-serif" font-weight="bold" font-style="italic" font-size="78.5" >MC</text>
<text transform="translate(868.8,779) scale(0.92,1)" text-anchor="middle" font-family="'Liberation Sans',sans-serif" font-weight="bold" font-style="italic" font-size="78.5" >TS</text>
<text transform="translate(1626.5,167.8) scale(0.97,1)" text-anchor="start" font-family="'Liberation Sans',sans-serif" font-size="70.6" >EtOH</text>
<text transform="translate(1626.5,259.8) scale(0.97,1)" text-anchor="start" font-family="'Liberation Sans',sans-serif" font-size="70.6" >EtOH 10 <tspan font-family="'DejaVu Serif','Liberation Serif',serif" font-size="61" dx="1.6">µ</tspan><tspan dx="-1.5">l</tspan><tspan dx="-2.4" letter-spacing="0.35"> 1M HCl</tspan></text>
<text transform="translate(1626.5,351.8) scale(0.97,1)" text-anchor="start" font-family="'Liberation Sans',sans-serif" font-size="70.6" >EtOH 20 <tspan font-family="'DejaVu Serif','Liberation Serif',serif" font-size="61" dx="1.6">µ</tspan><tspan dx="-1.5">l</tspan><tspan dx="-2.4" letter-spacing="0.35"> 1M HCl</tspan></text>
</g>
</svg>
</body></html>
